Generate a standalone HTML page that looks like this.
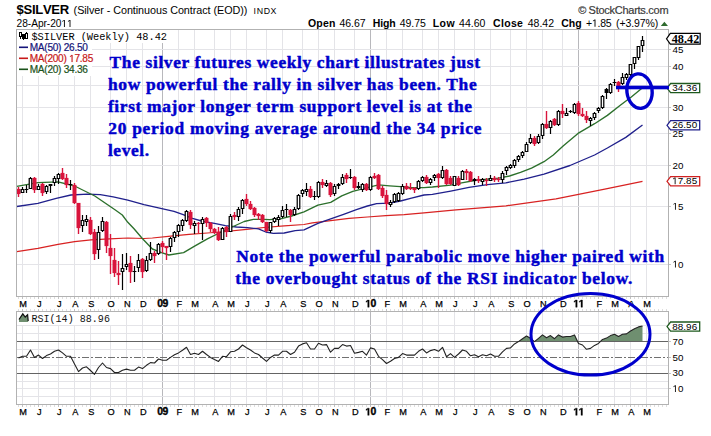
<!DOCTYPE html>
<html><head><meta charset="utf-8"><title>$SILVER weekly</title>
<style>html,body{margin:0;padding:0;background:#fff;}body{width:711px;height:436px;overflow:hidden;position:relative;font-family:"Liberation Sans",sans-serif;}</style></head>
<body>
<svg width="711" height="436" viewBox="0 0 711 436" style="position:absolute;left:0;top:0">
<rect x="0" y="0" width="711" height="436" fill="#fff"/>
<g shape-rendering="crispEdges"><rect x="22" y="30" width="1" height="266" fill="#e4e4e8"/><rect x="22" y="312" width="1" height="92" fill="#e4e4e8"/><rect x="38" y="30" width="1" height="266" fill="#e4e4e8"/><rect x="38" y="312" width="1" height="92" fill="#e4e4e8"/><rect x="58" y="30" width="1" height="266" fill="#e4e4e8"/><rect x="58" y="312" width="1" height="92" fill="#e4e4e8"/><rect x="74" y="30" width="1" height="266" fill="#e4e4e8"/><rect x="74" y="312" width="1" height="92" fill="#e4e4e8"/><rect x="90" y="30" width="1" height="266" fill="#e4e4e8"/><rect x="90" y="312" width="1" height="92" fill="#e4e4e8"/><rect x="110" y="30" width="1" height="266" fill="#e4e4e8"/><rect x="110" y="312" width="1" height="92" fill="#e4e4e8"/><rect x="126" y="30" width="1" height="266" fill="#e4e4e8"/><rect x="126" y="312" width="1" height="92" fill="#e4e4e8"/><rect x="142" y="30" width="1" height="266" fill="#e4e4e8"/><rect x="142" y="312" width="1" height="92" fill="#e4e4e8"/><rect x="162" y="30" width="1" height="266" fill="#b8b8bc"/><rect x="162" y="312" width="1" height="92" fill="#b8b8bc"/><rect x="178" y="30" width="1" height="266" fill="#e4e4e8"/><rect x="178" y="312" width="1" height="92" fill="#e4e4e8"/><rect x="194" y="30" width="1" height="266" fill="#e4e4e8"/><rect x="194" y="312" width="1" height="92" fill="#e4e4e8"/><rect x="214" y="30" width="1" height="266" fill="#e4e4e8"/><rect x="214" y="312" width="1" height="92" fill="#e4e4e8"/><rect x="230" y="30" width="1" height="266" fill="#e4e4e8"/><rect x="230" y="312" width="1" height="92" fill="#e4e4e8"/><rect x="246" y="30" width="1" height="266" fill="#e4e4e8"/><rect x="246" y="312" width="1" height="92" fill="#e4e4e8"/><rect x="266" y="30" width="1" height="266" fill="#e4e4e8"/><rect x="266" y="312" width="1" height="92" fill="#e4e4e8"/><rect x="282" y="30" width="1" height="266" fill="#e4e4e8"/><rect x="282" y="312" width="1" height="92" fill="#e4e4e8"/><rect x="302" y="30" width="1" height="266" fill="#e4e4e8"/><rect x="302" y="312" width="1" height="92" fill="#e4e4e8"/><rect x="318" y="30" width="1" height="266" fill="#e4e4e8"/><rect x="318" y="312" width="1" height="92" fill="#e4e4e8"/><rect x="334" y="30" width="1" height="266" fill="#e4e4e8"/><rect x="334" y="312" width="1" height="92" fill="#e4e4e8"/><rect x="354" y="30" width="1" height="266" fill="#e4e4e8"/><rect x="354" y="312" width="1" height="92" fill="#e4e4e8"/><rect x="370" y="30" width="1" height="266" fill="#b8b8bc"/><rect x="370" y="312" width="1" height="92" fill="#b8b8bc"/><rect x="386" y="30" width="1" height="266" fill="#e4e4e8"/><rect x="386" y="312" width="1" height="92" fill="#e4e4e8"/><rect x="402" y="30" width="1" height="266" fill="#e4e4e8"/><rect x="402" y="312" width="1" height="92" fill="#e4e4e8"/><rect x="422" y="30" width="1" height="266" fill="#e4e4e8"/><rect x="422" y="312" width="1" height="92" fill="#e4e4e8"/><rect x="438" y="30" width="1" height="266" fill="#e4e4e8"/><rect x="438" y="312" width="1" height="92" fill="#e4e4e8"/><rect x="454" y="30" width="1" height="266" fill="#e4e4e8"/><rect x="454" y="312" width="1" height="92" fill="#e4e4e8"/><rect x="474" y="30" width="1" height="266" fill="#e4e4e8"/><rect x="474" y="312" width="1" height="92" fill="#e4e4e8"/><rect x="490" y="30" width="1" height="266" fill="#e4e4e8"/><rect x="490" y="312" width="1" height="92" fill="#e4e4e8"/><rect x="510" y="30" width="1" height="266" fill="#e4e4e8"/><rect x="510" y="312" width="1" height="92" fill="#e4e4e8"/><rect x="526" y="30" width="1" height="266" fill="#e4e4e8"/><rect x="526" y="312" width="1" height="92" fill="#e4e4e8"/><rect x="542" y="30" width="1" height="266" fill="#e4e4e8"/><rect x="542" y="312" width="1" height="92" fill="#e4e4e8"/><rect x="562" y="30" width="1" height="266" fill="#e4e4e8"/><rect x="562" y="312" width="1" height="92" fill="#e4e4e8"/><rect x="578" y="30" width="1" height="266" fill="#b8b8bc"/><rect x="578" y="312" width="1" height="92" fill="#b8b8bc"/><rect x="598" y="30" width="1" height="266" fill="#e4e4e8"/><rect x="598" y="312" width="1" height="92" fill="#e4e4e8"/><rect x="614" y="30" width="1" height="266" fill="#e4e4e8"/><rect x="614" y="312" width="1" height="92" fill="#e4e4e8"/><rect x="630" y="30" width="1" height="266" fill="#e4e4e8"/><rect x="630" y="312" width="1" height="92" fill="#e4e4e8"/><rect x="646" y="30" width="1" height="266" fill="#e4e4e8"/><rect x="646" y="312" width="1" height="92" fill="#e4e4e8"/><rect x="17" y="49" width="651" height="1" fill="#e4e4e8"/><rect x="17" y="66" width="651" height="1" fill="#e4e4e8"/><rect x="17" y="85" width="651" height="1" fill="#e4e4e8"/><rect x="17" y="107" width="651" height="1" fill="#e4e4e8"/><rect x="17" y="133" width="651" height="1" fill="#e4e4e8"/><rect x="17" y="165" width="651" height="1" fill="#e4e4e8"/><rect x="17" y="206" width="651" height="1" fill="#e4e4e8"/><rect x="17" y="264" width="651" height="1" fill="#e4e4e8"/><rect x="17" y="325" width="651" height="1" fill="#e4e4e8"/><rect x="17" y="333" width="651" height="1" fill="#e4e4e8"/><rect x="17" y="349" width="651" height="1" fill="#e4e4e8"/><rect x="17" y="365" width="651" height="1" fill="#e4e4e8"/><rect x="17" y="381" width="651" height="1" fill="#e4e4e8"/><rect x="17" y="388" width="651" height="1" fill="#e4e4e8"/><rect x="17" y="396" width="651" height="1" fill="#e4e4e8"/></g>
<rect x="17" y="30" width="75" height="46" fill="#fff"/>
<rect x="17" y="30" width="152" height="13" fill="#fff"/>
<rect x="17" y="312" width="98" height="13" fill="#fff"/>
<polygon fill="#6f8f70" points="518.4,341.6 518.5,341.6 522.5,338.7 526.5,336.0 530.5,338.3 534.5,341.6 538.5,338.3 542.5,334.9 546.5,337.8 550.5,335.6 554.5,338.7 558.5,334.9 562.5,337.1 566.5,336.5 570.5,336.5 574.5,334.9 577.7,341.6"/>
<polygon fill="#6f8f70" points="600.2,341.6 602.5,339.4 606.5,338.1 610.5,335.6 614.5,334.2 618.5,336.4 622.5,334.3 626.5,333.9 630.5,331.0 634.5,328.7 638.5,326.9 642.5,326.0 642.5,341.6"/>
<g shape-rendering="crispEdges"><rect x="17" y="341" width="651" height="1" fill="#646464"/><rect x="17" y="373" width="651" height="1" fill="#646464"/></g>
<line x1="17" y1="357.5" x2="668" y2="357.5" stroke="#707070" stroke-width="1" stroke-dasharray="7,2,2,2" shape-rendering="crispEdges"/>
<polyline fill="none" stroke="#222" stroke-width="1.1" stroke-linejoin="round" points="18.5,358.0 22.5,356.3 26.5,356.3 30.5,350.0 34.5,357.4 38.5,355.1 42.5,358.5 46.5,355.6 50.5,354.0 54.5,351.3 58.5,350.0 62.5,352.9 66.5,356.3 70.5,356.3 74.5,364.0 78.5,371.6 82.5,368.0 86.5,366.8 90.5,370.5 94.5,374.3 98.5,367.5 102.5,363.0 106.5,367.5 110.5,368.6 114.5,372.5 118.5,372.5 122.5,370.2 126.5,369.1 130.5,370.2 134.5,370.2 138.5,367.1 142.5,368.6 146.5,365.3 150.5,362.6 154.5,363.0 158.5,359.0 162.5,360.3 166.5,360.3 170.5,357.4 174.5,354.7 178.5,352.9 182.5,350.2 186.5,347.3 190.5,354.5 194.5,353.3 198.5,354.5 202.5,351.3 206.5,354.5 210.5,357.4 214.5,359.6 218.5,361.4 222.5,356.3 226.5,356.7 230.5,351.8 234.5,351.3 238.5,349.0 242.5,345.0 246.5,347.7 250.5,350.0 254.5,352.9 258.5,354.5 262.5,358.0 266.5,361.4 270.5,357.4 274.5,355.1 278.5,355.1 282.5,351.3 286.5,351.3 290.5,354.5 294.5,352.2 298.5,346.1 302.5,343.9 306.5,342.8 310.5,349.0 314.5,349.0 318.5,343.2 322.5,345.0 326.5,344.6 330.5,352.2 334.5,348.4 338.5,348.4 342.5,344.6 346.5,346.1 350.5,345.5 354.5,353.3 358.5,352.4 362.5,351.3 366.5,355.1 370.5,347.9 374.5,349.0 378.5,356.3 382.5,359.6 386.5,363.5 390.5,361.2 394.5,358.5 398.5,357.4 402.5,353.6 406.5,355.1 410.5,355.1 414.5,355.1 418.5,351.3 422.5,349.0 426.5,352.9 430.5,350.6 434.5,349.5 438.5,351.3 442.5,347.3 446.5,356.7 450.5,353.6 454.5,357.4 458.5,354.0 462.5,350.0 466.5,351.3 470.5,355.8 474.5,354.7 478.5,356.7 482.5,354.7 486.5,355.8 490.5,354.0 494.5,356.3 498.5,356.3 502.5,351.8 506.5,348.4 510.5,347.9 514.5,343.9 518.5,341.6 522.5,338.7 526.5,336.0 530.5,338.3 534.5,341.6 538.5,338.3 542.5,334.9 546.5,337.8 550.5,335.6 554.5,338.7 558.5,334.9 562.5,337.1 566.5,336.5 570.5,336.5 574.5,334.9 578.5,343.4 582.5,345.0 586.5,349.3 590.5,348.4 594.5,345.4 598.5,343.4 602.5,339.4 606.5,338.1 610.5,335.6 614.5,334.2 618.5,336.4 622.5,334.3 626.5,333.9 630.5,331.0 634.5,328.7 638.5,326.9 642.5,326.0"/>
<polyline fill="none" stroke="#d82222" stroke-width="1.25" stroke-linejoin="round" points="16.8,251.7 37.9,248.4 58.0,244.4 74.6,241.6 91.0,239.8 109.5,238.9 127.8,238.0 144.0,238.5 152.4,238.0 170.7,236.1 189.0,234.3 207.4,233.0 225.8,231.5 244.2,229.7 264.0,227.5 284.2,225.9 304.0,224.5 312.4,222.8 330.7,220.7 349.0,218.3 367.4,217.0 385.8,215.7 404.2,214.6 424.0,212.8 456.0,209.8 506.0,205.8 556.0,198.8 606.0,188.9 642.5,181.3"/>
<polyline fill="none" stroke="#20208c" stroke-width="1.35" stroke-linejoin="round" points="16.8,206.5 37.9,203.3 56.2,198.4 70.9,195.0 87.4,194.2 100.3,194.7 113.2,196.9 127.8,200.2 144.0,204.6 174.0,211.4 183.2,214.7 192.4,218.4 203.4,221.5 214.4,223.3 225.4,225.7 236.4,227.0 247.4,227.6 258.5,228.9 265.8,232.0 273.2,233.4 284.2,233.0 295.2,230.7 304.0,229.8 317.9,223.4 330.7,218.9 343.6,214.3 356.4,209.7 367.4,206.0 376.6,203.6 389.5,203.2 400.5,201.0 411.5,198.1 424.0,195.0 432.4,194.4 450.7,191.1 469.0,187.4 487.4,184.7 505.8,182.8 524.2,179.2 544.0,174.2 570.0,165.5 594.6,155.0 607.4,148.0 625.8,137.4 642.5,125.0"/>
<polyline fill="none" stroke="#2c702c" stroke-width="1.35" stroke-linejoin="round" points="16.8,186.3 37.9,182.6 58.0,181.9 74.6,186.0 94.8,196.0 115.0,209.8 122.3,215.0 127.8,222.3 134.0,228.8 142.3,238.5 152.4,249.0 161.5,252.6 168.9,255.0 183.6,252.6 194.6,246.2 207.4,238.9 220.3,232.5 233.2,226.5 244.2,221.5 253.4,219.3 264.0,219.3 269.5,219.7 280.5,218.8 291.5,216.0 304.0,211.8 317.9,205.1 330.7,202.3 341.7,195.9 352.8,191.3 367.4,187.6 378.5,184.9 389.5,185.8 400.5,186.7 411.5,187.6 424.0,187.6 432.4,187.0 450.7,185.2 461.7,182.8 474.6,180.5 487.4,179.2 498.5,178.2 509.5,176.0 520.5,172.4 531.5,168.2 544.0,161.7 553.3,155.0 563.4,145.7 578.0,133.4 594.6,123.7 607.4,115.4 620.3,105.3 631.3,97.0 642.5,87.7"/>
<g><rect x="16.5" y="188.7" width="4" height="5.6" fill="#d9143c" opacity="0.32"/><rect x="17.6" y="187" width="1.8" height="10" fill="#d9143c" opacity="0.25"/><rect x="32.5" y="177.7" width="4" height="12.6" fill="#d9143c" opacity="0.32"/><rect x="33.6" y="177" width="1.8" height="16" fill="#d9143c" opacity="0.25"/><rect x="40.5" y="183.7" width="4" height="9.6" fill="#d9143c" opacity="0.32"/><rect x="41.6" y="183" width="1.8" height="13" fill="#d9143c" opacity="0.25"/><rect x="60.5" y="172.7" width="4" height="6.6" fill="#d9143c" opacity="0.32"/><rect x="61.6" y="168" width="1.8" height="12" fill="#d9143c" opacity="0.25"/><rect x="64.5" y="177.7" width="4" height="7.6" fill="#d9143c" opacity="0.32"/><rect x="65.6" y="174" width="1.8" height="14" fill="#d9143c" opacity="0.25"/><rect x="72.5" y="184.7" width="4" height="18.6" fill="#d9143c" opacity="0.32"/><rect x="73.6" y="183" width="1.8" height="21" fill="#d9143c" opacity="0.25"/><rect x="76.5" y="202.7" width="4" height="25.6" fill="#d9143c" opacity="0.32"/><rect x="77.6" y="203" width="1.8" height="31" fill="#d9143c" opacity="0.25"/><rect x="88.5" y="219.7" width="4" height="14.6" fill="#d9143c" opacity="0.32"/><rect x="89.6" y="217" width="1.8" height="18" fill="#d9143c" opacity="0.25"/><rect x="92.5" y="231.7" width="4" height="22.6" fill="#d9143c" opacity="0.32"/><rect x="93.6" y="229" width="1.8" height="31" fill="#d9143c" opacity="0.25"/><rect x="104.5" y="221.7" width="4" height="24.6" fill="#d9143c" opacity="0.32"/><rect x="105.6" y="221" width="1.8" height="32" fill="#d9143c" opacity="0.25"/><rect x="108.5" y="247.7" width="4" height="8.6" fill="#d9143c" opacity="0.32"/><rect x="109.6" y="234" width="1.8" height="40" fill="#d9143c" opacity="0.25"/><rect x="112.5" y="259.7" width="4" height="13.6" fill="#d9143c" opacity="0.32"/><rect x="113.6" y="248" width="1.8" height="29" fill="#d9143c" opacity="0.25"/><rect x="116.5" y="272.7" width="4" height="2.6" fill="#d9143c" opacity="0.32"/><rect x="117.6" y="261" width="1.8" height="24" fill="#d9143c" opacity="0.25"/><rect x="128.5" y="262.7" width="4" height="9.6" fill="#d9143c" opacity="0.32"/><rect x="129.6" y="256" width="1.8" height="27" fill="#d9143c" opacity="0.25"/><rect x="140.5" y="258.7" width="4" height="13.6" fill="#d9143c" opacity="0.32"/><rect x="141.6" y="258" width="1.8" height="20" fill="#d9143c" opacity="0.25"/><rect x="152.5" y="252.7" width="4" height="3.6" fill="#d9143c" opacity="0.32"/><rect x="153.6" y="251" width="1.8" height="12" fill="#d9143c" opacity="0.25"/><rect x="160.5" y="242.7" width="4" height="4.6" fill="#d9143c" opacity="0.32"/><rect x="161.6" y="241" width="1.8" height="12" fill="#d9143c" opacity="0.25"/><rect x="164.5" y="245.7" width="4" height="2.6" fill="#d9143c" opacity="0.32"/><rect x="165.6" y="246" width="1.8" height="14" fill="#d9143c" opacity="0.25"/><rect x="188.5" y="211.7" width="4" height="13.6" fill="#d9143c" opacity="0.32"/><rect x="189.6" y="210" width="1.8" height="19" fill="#d9143c" opacity="0.25"/><rect x="196.5" y="222.7" width="4" height="1.6" fill="#d9143c" opacity="0.32"/><rect x="197.6" y="222" width="1.8" height="11" fill="#d9143c" opacity="0.25"/><rect x="204.5" y="217.7" width="4" height="5.6" fill="#d9143c" opacity="0.32"/><rect x="205.6" y="217" width="1.8" height="10" fill="#d9143c" opacity="0.25"/><rect x="208.5" y="222.7" width="4" height="6.6" fill="#d9143c" opacity="0.32"/><rect x="209.6" y="222" width="1.8" height="10" fill="#d9143c" opacity="0.25"/><rect x="212.5" y="228.7" width="4" height="4.6" fill="#d9143c" opacity="0.32"/><rect x="213.6" y="228" width="1.8" height="6" fill="#d9143c" opacity="0.25"/><rect x="216.5" y="231.7" width="4" height="8.6" fill="#d9143c" opacity="0.32"/><rect x="217.6" y="227" width="1.8" height="14" fill="#d9143c" opacity="0.25"/><rect x="224.5" y="226.7" width="4" height="5.6" fill="#d9143c" opacity="0.32"/><rect x="225.6" y="226" width="1.8" height="11" fill="#d9143c" opacity="0.25"/><rect x="232.5" y="214.7" width="4" height="2.6" fill="#d9143c" opacity="0.32"/><rect x="233.6" y="212" width="1.8" height="8" fill="#d9143c" opacity="0.25"/><rect x="244.5" y="198.7" width="4" height="5.6" fill="#d9143c" opacity="0.32"/><rect x="245.6" y="194" width="1.8" height="12" fill="#d9143c" opacity="0.25"/><rect x="248.5" y="203.7" width="4" height="5.6" fill="#d9143c" opacity="0.32"/><rect x="249.6" y="201" width="1.8" height="9" fill="#d9143c" opacity="0.25"/><rect x="252.5" y="207.7" width="4" height="7.6" fill="#d9143c" opacity="0.32"/><rect x="253.6" y="207" width="1.8" height="10" fill="#d9143c" opacity="0.25"/><rect x="256.5" y="213.7" width="4" height="2.6" fill="#d9143c" opacity="0.32"/><rect x="257.6" y="213" width="1.8" height="7" fill="#d9143c" opacity="0.25"/><rect x="260.5" y="214.7" width="4" height="7.6" fill="#d9143c" opacity="0.32"/><rect x="261.6" y="214" width="1.8" height="9" fill="#d9143c" opacity="0.25"/><rect x="264.5" y="221.7" width="4" height="9.6" fill="#d9143c" opacity="0.32"/><rect x="265.6" y="222" width="1.8" height="10" fill="#d9143c" opacity="0.25"/><rect x="288.5" y="209.7" width="4" height="5.6" fill="#d9143c" opacity="0.32"/><rect x="289.6" y="209" width="1.8" height="13" fill="#d9143c" opacity="0.25"/><rect x="308.5" y="188.7" width="4" height="8.6" fill="#d9143c" opacity="0.32"/><rect x="309.6" y="186" width="1.8" height="12" fill="#d9143c" opacity="0.25"/><rect x="320.5" y="181.7" width="4" height="3.6" fill="#d9143c" opacity="0.32"/><rect x="321.6" y="179" width="1.8" height="9" fill="#d9143c" opacity="0.25"/><rect x="328.5" y="182.7" width="4" height="12.6" fill="#d9143c" opacity="0.32"/><rect x="329.6" y="182" width="1.8" height="15" fill="#d9143c" opacity="0.25"/><rect x="344.5" y="174.7" width="4" height="4.6" fill="#d9143c" opacity="0.32"/><rect x="345.6" y="173" width="1.8" height="10" fill="#d9143c" opacity="0.25"/><rect x="352.5" y="176.7" width="4" height="11.6" fill="#d9143c" opacity="0.32"/><rect x="353.6" y="176" width="1.8" height="14" fill="#d9143c" opacity="0.25"/><rect x="364.5" y="183.7" width="4" height="6.6" fill="#d9143c" opacity="0.32"/><rect x="365.6" y="183" width="1.8" height="8" fill="#d9143c" opacity="0.25"/><rect x="372.5" y="175.7" width="4" height="2.6" fill="#d9143c" opacity="0.32"/><rect x="373.6" y="173" width="1.8" height="6" fill="#d9143c" opacity="0.25"/><rect x="376.5" y="174.7" width="4" height="14.6" fill="#d9143c" opacity="0.32"/><rect x="377.6" y="174" width="1.8" height="16" fill="#d9143c" opacity="0.25"/><rect x="380.5" y="187.7" width="4" height="8.6" fill="#d9143c" opacity="0.32"/><rect x="381.6" y="186" width="1.8" height="12" fill="#d9143c" opacity="0.25"/><rect x="384.5" y="194.7" width="4" height="9.6" fill="#d9143c" opacity="0.32"/><rect x="385.6" y="190" width="1.8" height="20" fill="#d9143c" opacity="0.25"/><rect x="404.5" y="185.7" width="4" height="3.6" fill="#d9143c" opacity="0.32"/><rect x="405.6" y="183" width="1.8" height="7" fill="#d9143c" opacity="0.25"/><rect x="408.5" y="187.7" width="4" height="1.6" fill="#d9143c" opacity="0.32"/><rect x="409.6" y="183" width="1.8" height="7" fill="#d9143c" opacity="0.25"/><rect x="412.5" y="187.7" width="4" height="2.6" fill="#d9143c" opacity="0.32"/><rect x="413.6" y="187" width="1.8" height="6" fill="#d9143c" opacity="0.25"/><rect x="424.5" y="176.7" width="4" height="6.6" fill="#d9143c" opacity="0.32"/><rect x="425.6" y="175" width="1.8" height="9" fill="#d9143c" opacity="0.25"/><rect x="436.5" y="173.7" width="4" height="4.6" fill="#d9143c" opacity="0.32"/><rect x="437.6" y="173" width="1.8" height="15" fill="#d9143c" opacity="0.25"/><rect x="444.5" y="169.7" width="4" height="14.6" fill="#d9143c" opacity="0.32"/><rect x="445.6" y="169" width="1.8" height="16" fill="#d9143c" opacity="0.25"/><rect x="448.5" y="177.7" width="4" height="6.6" fill="#d9143c" opacity="0.32"/><rect x="449.6" y="176" width="1.8" height="9" fill="#d9143c" opacity="0.25"/><rect x="456.5" y="177.7" width="4" height="7.6" fill="#d9143c" opacity="0.32"/><rect x="457.6" y="176" width="1.8" height="10" fill="#d9143c" opacity="0.25"/><rect x="464.5" y="170.7" width="4" height="2.6" fill="#d9143c" opacity="0.32"/><rect x="465.6" y="169" width="1.8" height="11" fill="#d9143c" opacity="0.25"/><rect x="468.5" y="171.7" width="4" height="9.6" fill="#d9143c" opacity="0.32"/><rect x="469.6" y="171" width="1.8" height="11" fill="#d9143c" opacity="0.25"/><rect x="476.5" y="178.7" width="4" height="2.6" fill="#d9143c" opacity="0.32"/><rect x="477.6" y="176" width="1.8" height="7" fill="#d9143c" opacity="0.25"/><rect x="484.5" y="179.7" width="4" height="1.6" fill="#d9143c" opacity="0.32"/><rect x="485.6" y="178" width="1.8" height="8" fill="#d9143c" opacity="0.25"/><rect x="492.5" y="177.7" width="4" height="2.6" fill="#d9143c" opacity="0.32"/><rect x="493.6" y="176" width="1.8" height="6" fill="#d9143c" opacity="0.25"/><rect x="496.5" y="178.7" width="4" height="1.6" fill="#d9143c" opacity="0.32"/><rect x="497.6" y="177" width="1.8" height="5" fill="#d9143c" opacity="0.25"/><rect x="532.5" y="137.7" width="4" height="6.6" fill="#d9143c" opacity="0.32"/><rect x="533.6" y="136" width="1.8" height="10" fill="#d9143c" opacity="0.25"/><rect x="544.5" y="123.7" width="4" height="4.6" fill="#d9143c" opacity="0.32"/><rect x="545.6" y="111" width="1.8" height="18" fill="#d9143c" opacity="0.25"/><rect x="552.5" y="118.7" width="4" height="6.6" fill="#d9143c" opacity="0.32"/><rect x="553.6" y="118" width="1.8" height="8" fill="#d9143c" opacity="0.25"/><rect x="560.5" y="110.7" width="4" height="3.6" fill="#d9143c" opacity="0.32"/><rect x="561.6" y="104" width="1.8" height="14" fill="#d9143c" opacity="0.25"/><rect x="576.5" y="102.7" width="4" height="11.6" fill="#d9143c" opacity="0.32"/><rect x="577.6" y="101" width="1.8" height="15" fill="#d9143c" opacity="0.25"/><rect x="580.5" y="113.7" width="4" height="2.6" fill="#d9143c" opacity="0.32"/><rect x="581.6" y="108" width="1.8" height="9" fill="#d9143c" opacity="0.25"/><rect x="584.5" y="115.7" width="4" height="4.6" fill="#d9143c" opacity="0.32"/><rect x="585.6" y="111" width="1.8" height="12" fill="#d9143c" opacity="0.25"/><rect x="616.5" y="81.7" width="4" height="4.6" fill="#d9143c" opacity="0.32"/><rect x="617.6" y="81" width="1.8" height="11" fill="#d9143c" opacity="0.25"/></g>
<g><rect x="17.9" y="187" width="1.2" height="10" fill="#d9143c"/><rect x="16.6" y="189" width="3.8" height="5" fill="#d9143c"/><rect x="21.9" y="187" width="1.2" height="6" fill="#000"/><rect x="20.6" y="189" width="3.8" height="4" fill="#000"/><rect x="21.85" y="190" width="1.3" height="2" fill="#fff"/><rect x="25.9" y="185" width="1.2" height="8" fill="#000"/><rect x="24.6" y="189" width="3.8" height="1" fill="#000"/><rect x="29.9" y="177" width="1.2" height="12" fill="#000"/><rect x="28.6" y="178" width="3.8" height="11" fill="#000"/><rect x="29.85" y="179" width="1.3" height="9" fill="#fff"/><rect x="33.9" y="177" width="1.2" height="16" fill="#d9143c"/><rect x="32.6" y="178" width="3.8" height="12" fill="#d9143c"/><rect x="37.9" y="184" width="1.2" height="6" fill="#000"/><rect x="36.6" y="186" width="3.8" height="4" fill="#000"/><rect x="37.85" y="187" width="1.3" height="2" fill="#fff"/><rect x="41.9" y="183" width="1.2" height="13" fill="#d9143c"/><rect x="40.6" y="184" width="3.8" height="9" fill="#d9143c"/><rect x="45.9" y="185" width="1.2" height="9" fill="#000"/><rect x="44.6" y="186" width="3.8" height="6" fill="#000"/><rect x="45.85" y="187" width="1.3" height="4" fill="#fff"/><rect x="49.9" y="184" width="1.2" height="9" fill="#000"/><rect x="48.6" y="184" width="3.8" height="2" fill="#000"/><rect x="53.9" y="176" width="1.2" height="10" fill="#000"/><rect x="52.6" y="178" width="3.8" height="5" fill="#000"/><rect x="53.85" y="179" width="1.3" height="3" fill="#fff"/><rect x="57.9" y="173" width="1.2" height="11" fill="#000"/><rect x="56.6" y="174" width="3.8" height="5" fill="#000"/><rect x="57.85" y="175" width="1.3" height="3" fill="#fff"/><rect x="61.9" y="168" width="1.2" height="12" fill="#d9143c"/><rect x="60.6" y="173" width="3.8" height="6" fill="#d9143c"/><rect x="65.9" y="174" width="1.2" height="14" fill="#d9143c"/><rect x="64.6" y="178" width="3.8" height="7" fill="#d9143c"/><rect x="69.9" y="180" width="1.2" height="10" fill="#000"/><rect x="68.6" y="184" width="3.8" height="1" fill="#000"/><rect x="73.9" y="183" width="1.2" height="21" fill="#d9143c"/><rect x="72.6" y="185" width="3.8" height="18" fill="#d9143c"/><rect x="77.9" y="203" width="1.2" height="31" fill="#d9143c"/><rect x="76.6" y="203" width="3.8" height="25" fill="#d9143c"/><rect x="81.9" y="215" width="1.2" height="17" fill="#000"/><rect x="80.6" y="220" width="3.8" height="6" fill="#000"/><rect x="81.85" y="221" width="1.3" height="4" fill="#fff"/><rect x="85.9" y="215" width="1.2" height="11" fill="#000"/><rect x="84.6" y="219" width="3.8" height="3" fill="#000"/><rect x="85.85" y="220" width="1.3" height="1" fill="#fff"/><rect x="89.9" y="217" width="1.2" height="18" fill="#d9143c"/><rect x="88.6" y="220" width="3.8" height="14" fill="#d9143c"/><rect x="93.9" y="229" width="1.2" height="31" fill="#d9143c"/><rect x="92.6" y="232" width="3.8" height="22" fill="#d9143c"/><rect x="97.9" y="226" width="1.2" height="33" fill="#000"/><rect x="96.6" y="232" width="3.8" height="18" fill="#000"/><rect x="97.85" y="233" width="1.3" height="16" fill="#fff"/><rect x="101.9" y="217" width="1.2" height="15" fill="#000"/><rect x="100.6" y="221" width="3.8" height="10" fill="#000"/><rect x="101.85" y="222" width="1.3" height="8" fill="#fff"/><rect x="105.9" y="221" width="1.2" height="32" fill="#d9143c"/><rect x="104.6" y="222" width="3.8" height="24" fill="#d9143c"/><rect x="109.9" y="234" width="1.2" height="40" fill="#d9143c"/><rect x="108.6" y="248" width="3.8" height="8" fill="#d9143c"/><rect x="113.9" y="248" width="1.2" height="29" fill="#d9143c"/><rect x="112.6" y="260" width="3.8" height="13" fill="#d9143c"/><rect x="117.9" y="261" width="1.2" height="24" fill="#d9143c"/><rect x="116.6" y="273" width="3.8" height="2" fill="#d9143c"/><rect x="121.9" y="254" width="1.2" height="36" fill="#000"/><rect x="120.6" y="268" width="3.8" height="4" fill="#000"/><rect x="121.85" y="269" width="1.3" height="2" fill="#fff"/><rect x="125.9" y="253" width="1.2" height="17" fill="#000"/><rect x="124.6" y="264" width="3.8" height="3" fill="#000"/><rect x="125.85" y="265" width="1.3" height="1" fill="#fff"/><rect x="129.9" y="256" width="1.2" height="27" fill="#d9143c"/><rect x="128.6" y="263" width="3.8" height="9" fill="#d9143c"/><rect x="133.9" y="266" width="1.2" height="16" fill="#000"/><rect x="132.6" y="271" width="3.8" height="1" fill="#000"/><rect x="137.9" y="254" width="1.2" height="18" fill="#000"/><rect x="136.6" y="260" width="3.8" height="8" fill="#000"/><rect x="137.85" y="261" width="1.3" height="6" fill="#fff"/><rect x="141.9" y="258" width="1.2" height="20" fill="#d9143c"/><rect x="140.6" y="259" width="3.8" height="13" fill="#d9143c"/><rect x="145.9" y="256" width="1.2" height="16" fill="#000"/><rect x="144.6" y="260" width="3.8" height="11" fill="#000"/><rect x="145.85" y="261" width="1.3" height="9" fill="#fff"/><rect x="149.9" y="242" width="1.2" height="19" fill="#000"/><rect x="148.6" y="253" width="3.8" height="7" fill="#000"/><rect x="149.85" y="254" width="1.3" height="5" fill="#fff"/><rect x="153.9" y="251" width="1.2" height="12" fill="#d9143c"/><rect x="152.6" y="253" width="3.8" height="3" fill="#d9143c"/><rect x="157.9" y="243" width="1.2" height="12" fill="#000"/><rect x="156.6" y="244" width="3.8" height="10" fill="#000"/><rect x="157.85" y="245" width="1.3" height="8" fill="#fff"/><rect x="161.9" y="241" width="1.2" height="12" fill="#d9143c"/><rect x="160.6" y="243" width="3.8" height="4" fill="#d9143c"/><rect x="165.9" y="246" width="1.2" height="14" fill="#d9143c"/><rect x="164.6" y="246" width="3.8" height="2" fill="#d9143c"/><rect x="169.9" y="237" width="1.2" height="15" fill="#000"/><rect x="168.6" y="238" width="3.8" height="9" fill="#000"/><rect x="169.85" y="239" width="1.3" height="7" fill="#fff"/><rect x="173.9" y="231" width="1.2" height="11" fill="#000"/><rect x="172.6" y="232" width="3.8" height="6" fill="#000"/><rect x="173.85" y="233" width="1.3" height="4" fill="#fff"/><rect x="177.9" y="224" width="1.2" height="13" fill="#000"/><rect x="176.6" y="225" width="3.8" height="7" fill="#000"/><rect x="177.85" y="226" width="1.3" height="5" fill="#fff"/><rect x="181.9" y="219" width="1.2" height="12" fill="#000"/><rect x="180.6" y="220" width="3.8" height="6" fill="#000"/><rect x="181.85" y="221" width="1.3" height="4" fill="#fff"/><rect x="185.9" y="210" width="1.2" height="12" fill="#000"/><rect x="184.6" y="211" width="3.8" height="10" fill="#000"/><rect x="185.85" y="212" width="1.3" height="8" fill="#fff"/><rect x="189.9" y="210" width="1.2" height="19" fill="#d9143c"/><rect x="188.6" y="212" width="3.8" height="13" fill="#d9143c"/><rect x="193.9" y="221" width="1.2" height="13" fill="#000"/><rect x="192.6" y="223" width="3.8" height="3" fill="#000"/><rect x="193.85" y="224" width="1.3" height="1" fill="#fff"/><rect x="197.9" y="222" width="1.2" height="11" fill="#d9143c"/><rect x="196.6" y="223" width="3.8" height="1" fill="#d9143c"/><rect x="201.9" y="217" width="1.2" height="23" fill="#000"/><rect x="200.6" y="219" width="3.8" height="5" fill="#000"/><rect x="201.85" y="220" width="1.3" height="3" fill="#fff"/><rect x="205.9" y="217" width="1.2" height="10" fill="#d9143c"/><rect x="204.6" y="218" width="3.8" height="5" fill="#d9143c"/><rect x="209.9" y="222" width="1.2" height="10" fill="#d9143c"/><rect x="208.6" y="223" width="3.8" height="6" fill="#d9143c"/><rect x="213.9" y="228" width="1.2" height="6" fill="#d9143c"/><rect x="212.6" y="229" width="3.8" height="4" fill="#d9143c"/><rect x="217.9" y="227" width="1.2" height="14" fill="#d9143c"/><rect x="216.6" y="232" width="3.8" height="8" fill="#d9143c"/><rect x="221.9" y="227" width="1.2" height="13" fill="#000"/><rect x="220.6" y="228" width="3.8" height="12" fill="#000"/><rect x="221.85" y="229" width="1.3" height="10" fill="#fff"/><rect x="225.9" y="226" width="1.2" height="11" fill="#d9143c"/><rect x="224.6" y="227" width="3.8" height="5" fill="#d9143c"/><rect x="229.9" y="214" width="1.2" height="18" fill="#000"/><rect x="228.6" y="216" width="3.8" height="16" fill="#000"/><rect x="229.85" y="217" width="1.3" height="14" fill="#fff"/><rect x="233.9" y="212" width="1.2" height="8" fill="#d9143c"/><rect x="232.6" y="215" width="3.8" height="2" fill="#d9143c"/><rect x="237.9" y="207" width="1.2" height="14" fill="#000"/><rect x="236.6" y="209" width="3.8" height="8" fill="#000"/><rect x="237.85" y="210" width="1.3" height="6" fill="#fff"/><rect x="241.9" y="199" width="1.2" height="15" fill="#000"/><rect x="240.6" y="200" width="3.8" height="9" fill="#000"/><rect x="241.85" y="201" width="1.3" height="7" fill="#fff"/><rect x="245.9" y="194" width="1.2" height="12" fill="#d9143c"/><rect x="244.6" y="199" width="3.8" height="5" fill="#d9143c"/><rect x="249.9" y="201" width="1.2" height="9" fill="#d9143c"/><rect x="248.6" y="204" width="3.8" height="5" fill="#d9143c"/><rect x="253.9" y="207" width="1.2" height="10" fill="#d9143c"/><rect x="252.6" y="208" width="3.8" height="7" fill="#d9143c"/><rect x="257.9" y="213" width="1.2" height="7" fill="#d9143c"/><rect x="256.6" y="214" width="3.8" height="2" fill="#d9143c"/><rect x="261.9" y="214" width="1.2" height="9" fill="#d9143c"/><rect x="260.6" y="215" width="3.8" height="7" fill="#d9143c"/><rect x="265.9" y="222" width="1.2" height="10" fill="#d9143c"/><rect x="264.6" y="222" width="3.8" height="9" fill="#d9143c"/><rect x="269.9" y="222" width="1.2" height="11" fill="#000"/><rect x="268.6" y="222" width="3.8" height="9" fill="#000"/><rect x="269.85" y="223" width="1.3" height="7" fill="#fff"/><rect x="273.9" y="217" width="1.2" height="6" fill="#000"/><rect x="272.6" y="218" width="3.8" height="4" fill="#000"/><rect x="273.85" y="219" width="1.3" height="2" fill="#fff"/><rect x="277.9" y="215" width="1.2" height="11" fill="#000"/><rect x="276.6" y="217" width="3.8" height="3" fill="#000"/><rect x="277.85" y="218" width="1.3" height="1" fill="#fff"/><rect x="281.9" y="206" width="1.2" height="12" fill="#000"/><rect x="280.6" y="210" width="3.8" height="7" fill="#000"/><rect x="281.85" y="211" width="1.3" height="5" fill="#fff"/><rect x="285.9" y="204" width="1.2" height="13" fill="#000"/><rect x="284.6" y="209" width="3.8" height="1" fill="#000"/><rect x="289.9" y="209" width="1.2" height="13" fill="#d9143c"/><rect x="288.6" y="210" width="3.8" height="5" fill="#d9143c"/><rect x="293.9" y="207" width="1.2" height="9" fill="#000"/><rect x="292.6" y="209" width="3.8" height="6" fill="#000"/><rect x="293.85" y="210" width="1.3" height="4" fill="#fff"/><rect x="297.9" y="194" width="1.2" height="16" fill="#000"/><rect x="296.6" y="195" width="3.8" height="14" fill="#000"/><rect x="297.85" y="196" width="1.3" height="12" fill="#fff"/><rect x="301.9" y="189" width="1.2" height="8" fill="#000"/><rect x="300.6" y="190" width="3.8" height="4" fill="#000"/><rect x="301.85" y="191" width="1.3" height="2" fill="#fff"/><rect x="305.9" y="183" width="1.2" height="13" fill="#000"/><rect x="304.6" y="189" width="3.8" height="3" fill="#000"/><rect x="305.85" y="190" width="1.3" height="1" fill="#fff"/><rect x="309.9" y="186" width="1.2" height="12" fill="#d9143c"/><rect x="308.6" y="189" width="3.8" height="8" fill="#d9143c"/><rect x="313.9" y="191" width="1.2" height="9" fill="#000"/><rect x="312.6" y="196" width="3.8" height="1" fill="#000"/><rect x="317.9" y="181" width="1.2" height="17" fill="#000"/><rect x="316.6" y="182" width="3.8" height="15" fill="#000"/><rect x="317.85" y="183" width="1.3" height="13" fill="#fff"/><rect x="321.9" y="179" width="1.2" height="9" fill="#d9143c"/><rect x="320.6" y="182" width="3.8" height="3" fill="#d9143c"/><rect x="325.9" y="180" width="1.2" height="7" fill="#000"/><rect x="324.6" y="183" width="3.8" height="3" fill="#000"/><rect x="325.85" y="184" width="1.3" height="1" fill="#fff"/><rect x="329.9" y="182" width="1.2" height="15" fill="#d9143c"/><rect x="328.6" y="183" width="3.8" height="12" fill="#d9143c"/><rect x="333.9" y="184" width="1.2" height="12" fill="#000"/><rect x="332.6" y="186" width="3.8" height="8" fill="#000"/><rect x="333.85" y="187" width="1.3" height="6" fill="#fff"/><rect x="337.9" y="183" width="1.2" height="6" fill="#000"/><rect x="336.6" y="184" width="3.8" height="2" fill="#000"/><rect x="341.9" y="174" width="1.2" height="11" fill="#000"/><rect x="340.6" y="177" width="3.8" height="7" fill="#000"/><rect x="341.85" y="178" width="1.3" height="5" fill="#fff"/><rect x="345.9" y="173" width="1.2" height="10" fill="#d9143c"/><rect x="344.6" y="175" width="3.8" height="4" fill="#d9143c"/><rect x="349.9" y="169" width="1.2" height="10" fill="#000"/><rect x="348.6" y="177" width="3.8" height="1" fill="#000"/><rect x="353.9" y="176" width="1.2" height="14" fill="#d9143c"/><rect x="352.6" y="177" width="3.8" height="11" fill="#d9143c"/><rect x="357.9" y="182" width="1.2" height="7" fill="#000"/><rect x="356.6" y="186" width="3.8" height="2" fill="#000"/><rect x="361.9" y="183" width="1.2" height="9" fill="#000"/><rect x="360.6" y="184" width="3.8" height="6" fill="#000"/><rect x="361.85" y="185" width="1.3" height="4" fill="#fff"/><rect x="365.9" y="183" width="1.2" height="8" fill="#d9143c"/><rect x="364.6" y="184" width="3.8" height="6" fill="#d9143c"/><rect x="369.9" y="176" width="1.2" height="15" fill="#000"/><rect x="368.6" y="177" width="3.8" height="13" fill="#000"/><rect x="369.85" y="178" width="1.3" height="11" fill="#fff"/><rect x="373.9" y="173" width="1.2" height="6" fill="#d9143c"/><rect x="372.6" y="176" width="3.8" height="2" fill="#d9143c"/><rect x="377.9" y="174" width="1.2" height="16" fill="#d9143c"/><rect x="376.6" y="175" width="3.8" height="14" fill="#d9143c"/><rect x="381.9" y="186" width="1.2" height="12" fill="#d9143c"/><rect x="380.6" y="188" width="3.8" height="8" fill="#d9143c"/><rect x="385.9" y="190" width="1.2" height="20" fill="#d9143c"/><rect x="384.6" y="195" width="3.8" height="9" fill="#d9143c"/><rect x="389.9" y="200" width="1.2" height="7" fill="#000"/><rect x="388.6" y="202" width="3.8" height="3" fill="#000"/><rect x="389.85" y="203" width="1.3" height="1" fill="#fff"/><rect x="393.9" y="193" width="1.2" height="10" fill="#000"/><rect x="392.6" y="194" width="3.8" height="8" fill="#000"/><rect x="393.85" y="195" width="1.3" height="6" fill="#fff"/><rect x="397.9" y="192" width="1.2" height="10" fill="#000"/><rect x="396.6" y="193" width="3.8" height="8" fill="#000"/><rect x="397.85" y="194" width="1.3" height="6" fill="#fff"/><rect x="401.9" y="184" width="1.2" height="11" fill="#000"/><rect x="400.6" y="186" width="3.8" height="8" fill="#000"/><rect x="401.85" y="187" width="1.3" height="6" fill="#fff"/><rect x="405.9" y="183" width="1.2" height="7" fill="#d9143c"/><rect x="404.6" y="186" width="3.8" height="3" fill="#d9143c"/><rect x="409.9" y="183" width="1.2" height="7" fill="#d9143c"/><rect x="408.6" y="188" width="3.8" height="1" fill="#d9143c"/><rect x="413.9" y="187" width="1.2" height="6" fill="#d9143c"/><rect x="412.6" y="188" width="3.8" height="2" fill="#d9143c"/><rect x="417.9" y="180" width="1.2" height="10" fill="#000"/><rect x="416.6" y="181" width="3.8" height="8" fill="#000"/><rect x="417.85" y="182" width="1.3" height="6" fill="#fff"/><rect x="421.9" y="176" width="1.2" height="6" fill="#000"/><rect x="420.6" y="177" width="3.8" height="4" fill="#000"/><rect x="421.85" y="178" width="1.3" height="2" fill="#fff"/><rect x="425.9" y="175" width="1.2" height="9" fill="#d9143c"/><rect x="424.6" y="177" width="3.8" height="6" fill="#d9143c"/><rect x="429.9" y="178" width="1.2" height="7" fill="#000"/><rect x="428.6" y="179" width="3.8" height="4" fill="#000"/><rect x="429.85" y="180" width="1.3" height="2" fill="#fff"/><rect x="433.9" y="174" width="1.2" height="7" fill="#000"/><rect x="432.6" y="175" width="3.8" height="3" fill="#000"/><rect x="433.85" y="176" width="1.3" height="1" fill="#fff"/><rect x="437.9" y="173" width="1.2" height="15" fill="#d9143c"/><rect x="436.6" y="174" width="3.8" height="4" fill="#d9143c"/><rect x="441.9" y="166" width="1.2" height="13" fill="#000"/><rect x="440.6" y="170" width="3.8" height="8" fill="#000"/><rect x="441.85" y="171" width="1.3" height="6" fill="#fff"/><rect x="445.9" y="169" width="1.2" height="16" fill="#d9143c"/><rect x="444.6" y="170" width="3.8" height="14" fill="#d9143c"/><rect x="449.9" y="176" width="1.2" height="9" fill="#d9143c"/><rect x="448.6" y="178" width="3.8" height="6" fill="#d9143c"/><rect x="453.9" y="176" width="1.2" height="10" fill="#000"/><rect x="452.6" y="176" width="3.8" height="10" fill="#000"/><rect x="453.85" y="177" width="1.3" height="8" fill="#fff"/><rect x="457.9" y="176" width="1.2" height="10" fill="#d9143c"/><rect x="456.6" y="178" width="3.8" height="7" fill="#d9143c"/><rect x="461.9" y="170" width="1.2" height="10" fill="#000"/><rect x="460.6" y="171" width="3.8" height="9" fill="#000"/><rect x="461.85" y="172" width="1.3" height="7" fill="#fff"/><rect x="465.9" y="169" width="1.2" height="11" fill="#d9143c"/><rect x="464.6" y="171" width="3.8" height="2" fill="#d9143c"/><rect x="469.9" y="171" width="1.2" height="11" fill="#d9143c"/><rect x="468.6" y="172" width="3.8" height="9" fill="#d9143c"/><rect x="473.9" y="178" width="1.2" height="7" fill="#000"/><rect x="472.6" y="179" width="3.8" height="2" fill="#000"/><rect x="477.9" y="176" width="1.2" height="7" fill="#d9143c"/><rect x="476.6" y="179" width="3.8" height="2" fill="#d9143c"/><rect x="481.9" y="178" width="1.2" height="7" fill="#000"/><rect x="480.6" y="179" width="3.8" height="3" fill="#000"/><rect x="481.85" y="180" width="1.3" height="1" fill="#fff"/><rect x="485.9" y="178" width="1.2" height="8" fill="#d9143c"/><rect x="484.6" y="180" width="3.8" height="1" fill="#d9143c"/><rect x="489.9" y="175" width="1.2" height="6" fill="#000"/><rect x="488.6" y="178" width="3.8" height="3" fill="#000"/><rect x="489.85" y="179" width="1.3" height="1" fill="#fff"/><rect x="493.9" y="176" width="1.2" height="6" fill="#d9143c"/><rect x="492.6" y="178" width="3.8" height="2" fill="#d9143c"/><rect x="497.9" y="177" width="1.2" height="5" fill="#d9143c"/><rect x="496.6" y="179" width="3.8" height="1" fill="#d9143c"/><rect x="501.9" y="171" width="1.2" height="12" fill="#000"/><rect x="500.6" y="173" width="3.8" height="7" fill="#000"/><rect x="501.85" y="174" width="1.3" height="5" fill="#fff"/><rect x="505.9" y="166" width="1.2" height="9" fill="#000"/><rect x="504.6" y="167" width="3.8" height="4" fill="#000"/><rect x="505.85" y="168" width="1.3" height="2" fill="#fff"/><rect x="509.9" y="164" width="1.2" height="5" fill="#000"/><rect x="508.6" y="165" width="3.8" height="3" fill="#000"/><rect x="509.85" y="166" width="1.3" height="1" fill="#fff"/><rect x="513.9" y="159" width="1.2" height="9" fill="#000"/><rect x="512.6" y="160" width="3.8" height="6" fill="#000"/><rect x="513.85" y="161" width="1.3" height="4" fill="#fff"/><rect x="517.9" y="155" width="1.2" height="7" fill="#000"/><rect x="516.6" y="156" width="3.8" height="4" fill="#000"/><rect x="517.85" y="157" width="1.3" height="2" fill="#fff"/><rect x="521.9" y="151" width="1.2" height="7" fill="#000"/><rect x="520.6" y="152" width="3.8" height="4" fill="#000"/><rect x="521.85" y="153" width="1.3" height="2" fill="#fff"/><rect x="525.9" y="142" width="1.2" height="10" fill="#000"/><rect x="524.6" y="144" width="3.8" height="8" fill="#000"/><rect x="525.85" y="145" width="1.3" height="6" fill="#fff"/><rect x="529.9" y="134" width="1.2" height="10" fill="#000"/><rect x="528.6" y="138" width="3.8" height="5" fill="#000"/><rect x="529.85" y="139" width="1.3" height="3" fill="#fff"/><rect x="533.9" y="136" width="1.2" height="10" fill="#d9143c"/><rect x="532.6" y="138" width="3.8" height="6" fill="#d9143c"/><rect x="537.9" y="134" width="1.2" height="10" fill="#000"/><rect x="536.6" y="136" width="3.8" height="7" fill="#000"/><rect x="537.85" y="137" width="1.3" height="5" fill="#fff"/><rect x="541.9" y="123" width="1.2" height="16" fill="#000"/><rect x="540.6" y="124" width="3.8" height="12" fill="#000"/><rect x="541.85" y="125" width="1.3" height="10" fill="#fff"/><rect x="545.9" y="111" width="1.2" height="18" fill="#d9143c"/><rect x="544.6" y="124" width="3.8" height="4" fill="#d9143c"/><rect x="549.9" y="120" width="1.2" height="14" fill="#000"/><rect x="548.6" y="121" width="3.8" height="7" fill="#000"/><rect x="549.85" y="122" width="1.3" height="5" fill="#fff"/><rect x="553.9" y="118" width="1.2" height="8" fill="#d9143c"/><rect x="552.6" y="119" width="3.8" height="6" fill="#d9143c"/><rect x="557.9" y="110" width="1.2" height="16" fill="#000"/><rect x="556.6" y="111" width="3.8" height="14" fill="#000"/><rect x="557.85" y="112" width="1.3" height="12" fill="#fff"/><rect x="561.9" y="104" width="1.2" height="14" fill="#d9143c"/><rect x="560.6" y="111" width="3.8" height="3" fill="#d9143c"/><rect x="565.9" y="108" width="1.2" height="8" fill="#000"/><rect x="564.6" y="113" width="3.8" height="3" fill="#000"/><rect x="565.85" y="114" width="1.3" height="1" fill="#fff"/><rect x="569.9" y="110" width="1.2" height="3" fill="#000"/><rect x="568.6" y="111" width="3.8" height="1" fill="#000"/><rect x="573.9" y="103" width="1.2" height="11" fill="#000"/><rect x="572.6" y="104" width="3.8" height="9" fill="#000"/><rect x="573.85" y="105" width="1.3" height="7" fill="#fff"/><rect x="577.9" y="101" width="1.2" height="15" fill="#d9143c"/><rect x="576.6" y="103" width="3.8" height="11" fill="#d9143c"/><rect x="581.9" y="108" width="1.2" height="9" fill="#d9143c"/><rect x="580.6" y="114" width="3.8" height="2" fill="#d9143c"/><rect x="585.9" y="111" width="1.2" height="12" fill="#d9143c"/><rect x="584.6" y="116" width="3.8" height="4" fill="#d9143c"/><rect x="589.9" y="117" width="1.2" height="9" fill="#000"/><rect x="588.6" y="118" width="3.8" height="3" fill="#000"/><rect x="589.85" y="119" width="1.3" height="1" fill="#fff"/><rect x="593.9" y="112" width="1.2" height="8" fill="#000"/><rect x="592.6" y="113" width="3.8" height="5" fill="#000"/><rect x="593.85" y="114" width="1.3" height="3" fill="#fff"/><rect x="597.9" y="107" width="1.2" height="6" fill="#000"/><rect x="596.6" y="108" width="3.8" height="3" fill="#000"/><rect x="597.85" y="109" width="1.3" height="1" fill="#fff"/><rect x="601.9" y="95" width="1.2" height="14" fill="#000"/><rect x="600.6" y="96" width="3.8" height="12" fill="#000"/><rect x="601.85" y="97" width="1.3" height="10" fill="#fff"/><rect x="605.9" y="88" width="1.2" height="11" fill="#000"/><rect x="604.6" y="89" width="3.8" height="4" fill="#000"/><rect x="609.9" y="83" width="1.2" height="11" fill="#000"/><rect x="608.6" y="84" width="3.8" height="9" fill="#000"/><rect x="609.85" y="85" width="1.3" height="7" fill="#fff"/><rect x="613.9" y="79" width="1.2" height="7" fill="#000"/><rect x="612.6" y="82" width="3.8" height="1" fill="#000"/><rect x="617.9" y="81" width="1.2" height="11" fill="#d9143c"/><rect x="616.6" y="82" width="3.8" height="4" fill="#d9143c"/><rect x="621.9" y="73" width="1.2" height="12" fill="#000"/><rect x="620.6" y="77" width="3.8" height="7" fill="#000"/><rect x="621.85" y="78" width="1.3" height="5" fill="#fff"/><rect x="625.9" y="73" width="1.2" height="7" fill="#000"/><rect x="624.6" y="74" width="3.8" height="4" fill="#000"/><rect x="625.85" y="75" width="1.3" height="2" fill="#fff"/><rect x="629.9" y="64" width="1.2" height="13" fill="#000"/><rect x="628.6" y="64" width="3.8" height="11" fill="#000"/><rect x="629.85" y="65" width="1.3" height="9" fill="#fff"/><rect x="633.9" y="57" width="1.2" height="12" fill="#000"/><rect x="632.6" y="57" width="3.8" height="7" fill="#000"/><rect x="633.85" y="58" width="1.3" height="5" fill="#fff"/><rect x="637.9" y="46" width="1.2" height="14" fill="#000"/><rect x="636.6" y="46" width="3.8" height="12" fill="#000"/><rect x="637.85" y="47" width="1.3" height="10" fill="#fff"/><rect x="641.9" y="36" width="1.2" height="16" fill="#000"/><rect x="640.6" y="40" width="3.8" height="6" fill="#000"/><rect x="641.85" y="41" width="1.3" height="4" fill="#fff"/></g>
<g shape-rendering="crispEdges"><rect x="16" y="29" width="653" height="1" fill="#b2b2b2"/><rect x="16" y="296" width="653" height="1" fill="#b2b2b2"/><rect x="16" y="29" width="1" height="268" fill="#b2b2b2"/><rect x="668" y="29" width="1" height="268" fill="#b2b2b2"/><rect x="16" y="311" width="653" height="1" fill="#b2b2b2"/><rect x="16" y="404" width="653" height="1" fill="#b2b2b2"/><rect x="16" y="311" width="1" height="94" fill="#b2b2b2"/><rect x="668" y="311" width="1" height="94" fill="#b2b2b2"/><rect x="669" y="49" width="2" height="1" fill="#c4c4c4"/><rect x="669" y="66" width="2" height="1" fill="#c4c4c4"/><rect x="669" y="85" width="2" height="1" fill="#c4c4c4"/><rect x="669" y="107" width="2" height="1" fill="#c4c4c4"/><rect x="669" y="133" width="2" height="1" fill="#c4c4c4"/><rect x="669" y="165" width="2" height="1" fill="#c4c4c4"/><rect x="669" y="206" width="2" height="1" fill="#c4c4c4"/><rect x="669" y="264" width="2" height="1" fill="#c4c4c4"/><rect x="669" y="341" width="2" height="1" fill="#c4c4c4"/><rect x="669" y="357" width="2" height="1" fill="#c4c4c4"/><rect x="669" y="373" width="2" height="1" fill="#c4c4c4"/><rect x="669" y="388" width="2" height="1" fill="#c4c4c4"/><rect x="18" y="297" width="1" height="2" fill="#dedede"/><rect x="18" y="309" width="1" height="2" fill="#dedede"/><rect x="18" y="405" width="1" height="2" fill="#dedede"/><rect x="22" y="297" width="1" height="2" fill="#dedede"/><rect x="22" y="309" width="1" height="2" fill="#dedede"/><rect x="22" y="405" width="1" height="2" fill="#dedede"/><rect x="26" y="297" width="1" height="2" fill="#dedede"/><rect x="26" y="309" width="1" height="2" fill="#dedede"/><rect x="26" y="405" width="1" height="2" fill="#dedede"/><rect x="30" y="297" width="1" height="2" fill="#dedede"/><rect x="30" y="309" width="1" height="2" fill="#dedede"/><rect x="30" y="405" width="1" height="2" fill="#dedede"/><rect x="34" y="297" width="1" height="2" fill="#dedede"/><rect x="34" y="309" width="1" height="2" fill="#dedede"/><rect x="34" y="405" width="1" height="2" fill="#dedede"/><rect x="38" y="297" width="1" height="2" fill="#dedede"/><rect x="38" y="309" width="1" height="2" fill="#dedede"/><rect x="38" y="405" width="1" height="2" fill="#dedede"/><rect x="42" y="297" width="1" height="2" fill="#dedede"/><rect x="42" y="309" width="1" height="2" fill="#dedede"/><rect x="42" y="405" width="1" height="2" fill="#dedede"/><rect x="46" y="297" width="1" height="2" fill="#dedede"/><rect x="46" y="309" width="1" height="2" fill="#dedede"/><rect x="46" y="405" width="1" height="2" fill="#dedede"/><rect x="50" y="297" width="1" height="2" fill="#dedede"/><rect x="50" y="309" width="1" height="2" fill="#dedede"/><rect x="50" y="405" width="1" height="2" fill="#dedede"/><rect x="54" y="297" width="1" height="2" fill="#dedede"/><rect x="54" y="309" width="1" height="2" fill="#dedede"/><rect x="54" y="405" width="1" height="2" fill="#dedede"/><rect x="58" y="297" width="1" height="2" fill="#dedede"/><rect x="58" y="309" width="1" height="2" fill="#dedede"/><rect x="58" y="405" width="1" height="2" fill="#dedede"/><rect x="62" y="297" width="1" height="2" fill="#dedede"/><rect x="62" y="309" width="1" height="2" fill="#dedede"/><rect x="62" y="405" width="1" height="2" fill="#dedede"/><rect x="66" y="297" width="1" height="2" fill="#dedede"/><rect x="66" y="309" width="1" height="2" fill="#dedede"/><rect x="66" y="405" width="1" height="2" fill="#dedede"/><rect x="70" y="297" width="1" height="2" fill="#dedede"/><rect x="70" y="309" width="1" height="2" fill="#dedede"/><rect x="70" y="405" width="1" height="2" fill="#dedede"/><rect x="74" y="297" width="1" height="2" fill="#dedede"/><rect x="74" y="309" width="1" height="2" fill="#dedede"/><rect x="74" y="405" width="1" height="2" fill="#dedede"/><rect x="78" y="297" width="1" height="2" fill="#dedede"/><rect x="78" y="309" width="1" height="2" fill="#dedede"/><rect x="78" y="405" width="1" height="2" fill="#dedede"/><rect x="82" y="297" width="1" height="2" fill="#dedede"/><rect x="82" y="309" width="1" height="2" fill="#dedede"/><rect x="82" y="405" width="1" height="2" fill="#dedede"/><rect x="86" y="297" width="1" height="2" fill="#dedede"/><rect x="86" y="309" width="1" height="2" fill="#dedede"/><rect x="86" y="405" width="1" height="2" fill="#dedede"/><rect x="90" y="297" width="1" height="2" fill="#dedede"/><rect x="90" y="309" width="1" height="2" fill="#dedede"/><rect x="90" y="405" width="1" height="2" fill="#dedede"/><rect x="94" y="297" width="1" height="2" fill="#dedede"/><rect x="94" y="309" width="1" height="2" fill="#dedede"/><rect x="94" y="405" width="1" height="2" fill="#dedede"/><rect x="98" y="297" width="1" height="2" fill="#dedede"/><rect x="98" y="309" width="1" height="2" fill="#dedede"/><rect x="98" y="405" width="1" height="2" fill="#dedede"/><rect x="102" y="297" width="1" height="2" fill="#dedede"/><rect x="102" y="309" width="1" height="2" fill="#dedede"/><rect x="102" y="405" width="1" height="2" fill="#dedede"/><rect x="106" y="297" width="1" height="2" fill="#dedede"/><rect x="106" y="309" width="1" height="2" fill="#dedede"/><rect x="106" y="405" width="1" height="2" fill="#dedede"/><rect x="110" y="297" width="1" height="2" fill="#dedede"/><rect x="110" y="309" width="1" height="2" fill="#dedede"/><rect x="110" y="405" width="1" height="2" fill="#dedede"/><rect x="114" y="297" width="1" height="2" fill="#dedede"/><rect x="114" y="309" width="1" height="2" fill="#dedede"/><rect x="114" y="405" width="1" height="2" fill="#dedede"/><rect x="118" y="297" width="1" height="2" fill="#dedede"/><rect x="118" y="309" width="1" height="2" fill="#dedede"/><rect x="118" y="405" width="1" height="2" fill="#dedede"/><rect x="122" y="297" width="1" height="2" fill="#dedede"/><rect x="122" y="309" width="1" height="2" fill="#dedede"/><rect x="122" y="405" width="1" height="2" fill="#dedede"/><rect x="126" y="297" width="1" height="2" fill="#dedede"/><rect x="126" y="309" width="1" height="2" fill="#dedede"/><rect x="126" y="405" width="1" height="2" fill="#dedede"/><rect x="130" y="297" width="1" height="2" fill="#dedede"/><rect x="130" y="309" width="1" height="2" fill="#dedede"/><rect x="130" y="405" width="1" height="2" fill="#dedede"/><rect x="134" y="297" width="1" height="2" fill="#dedede"/><rect x="134" y="309" width="1" height="2" fill="#dedede"/><rect x="134" y="405" width="1" height="2" fill="#dedede"/><rect x="138" y="297" width="1" height="2" fill="#dedede"/><rect x="138" y="309" width="1" height="2" fill="#dedede"/><rect x="138" y="405" width="1" height="2" fill="#dedede"/><rect x="142" y="297" width="1" height="2" fill="#dedede"/><rect x="142" y="309" width="1" height="2" fill="#dedede"/><rect x="142" y="405" width="1" height="2" fill="#dedede"/><rect x="146" y="297" width="1" height="2" fill="#dedede"/><rect x="146" y="309" width="1" height="2" fill="#dedede"/><rect x="146" y="405" width="1" height="2" fill="#dedede"/><rect x="150" y="297" width="1" height="2" fill="#dedede"/><rect x="150" y="309" width="1" height="2" fill="#dedede"/><rect x="150" y="405" width="1" height="2" fill="#dedede"/><rect x="154" y="297" width="1" height="2" fill="#dedede"/><rect x="154" y="309" width="1" height="2" fill="#dedede"/><rect x="154" y="405" width="1" height="2" fill="#dedede"/><rect x="158" y="297" width="1" height="2" fill="#dedede"/><rect x="158" y="309" width="1" height="2" fill="#dedede"/><rect x="158" y="405" width="1" height="2" fill="#dedede"/><rect x="162" y="297" width="1" height="2" fill="#dedede"/><rect x="162" y="309" width="1" height="2" fill="#dedede"/><rect x="162" y="405" width="1" height="2" fill="#dedede"/><rect x="166" y="297" width="1" height="2" fill="#dedede"/><rect x="166" y="309" width="1" height="2" fill="#dedede"/><rect x="166" y="405" width="1" height="2" fill="#dedede"/><rect x="170" y="297" width="1" height="2" fill="#dedede"/><rect x="170" y="309" width="1" height="2" fill="#dedede"/><rect x="170" y="405" width="1" height="2" fill="#dedede"/><rect x="174" y="297" width="1" height="2" fill="#dedede"/><rect x="174" y="309" width="1" height="2" fill="#dedede"/><rect x="174" y="405" width="1" height="2" fill="#dedede"/><rect x="178" y="297" width="1" height="2" fill="#dedede"/><rect x="178" y="309" width="1" height="2" fill="#dedede"/><rect x="178" y="405" width="1" height="2" fill="#dedede"/><rect x="182" y="297" width="1" height="2" fill="#dedede"/><rect x="182" y="309" width="1" height="2" fill="#dedede"/><rect x="182" y="405" width="1" height="2" fill="#dedede"/><rect x="186" y="297" width="1" height="2" fill="#dedede"/><rect x="186" y="309" width="1" height="2" fill="#dedede"/><rect x="186" y="405" width="1" height="2" fill="#dedede"/><rect x="190" y="297" width="1" height="2" fill="#dedede"/><rect x="190" y="309" width="1" height="2" fill="#dedede"/><rect x="190" y="405" width="1" height="2" fill="#dedede"/><rect x="194" y="297" width="1" height="2" fill="#dedede"/><rect x="194" y="309" width="1" height="2" fill="#dedede"/><rect x="194" y="405" width="1" height="2" fill="#dedede"/><rect x="198" y="297" width="1" height="2" fill="#dedede"/><rect x="198" y="309" width="1" height="2" fill="#dedede"/><rect x="198" y="405" width="1" height="2" fill="#dedede"/><rect x="202" y="297" width="1" height="2" fill="#dedede"/><rect x="202" y="309" width="1" height="2" fill="#dedede"/><rect x="202" y="405" width="1" height="2" fill="#dedede"/><rect x="206" y="297" width="1" height="2" fill="#dedede"/><rect x="206" y="309" width="1" height="2" fill="#dedede"/><rect x="206" y="405" width="1" height="2" fill="#dedede"/><rect x="210" y="297" width="1" height="2" fill="#dedede"/><rect x="210" y="309" width="1" height="2" fill="#dedede"/><rect x="210" y="405" width="1" height="2" fill="#dedede"/><rect x="214" y="297" width="1" height="2" fill="#dedede"/><rect x="214" y="309" width="1" height="2" fill="#dedede"/><rect x="214" y="405" width="1" height="2" fill="#dedede"/><rect x="218" y="297" width="1" height="2" fill="#dedede"/><rect x="218" y="309" width="1" height="2" fill="#dedede"/><rect x="218" y="405" width="1" height="2" fill="#dedede"/><rect x="222" y="297" width="1" height="2" fill="#dedede"/><rect x="222" y="309" width="1" height="2" fill="#dedede"/><rect x="222" y="405" width="1" height="2" fill="#dedede"/><rect x="226" y="297" width="1" height="2" fill="#dedede"/><rect x="226" y="309" width="1" height="2" fill="#dedede"/><rect x="226" y="405" width="1" height="2" fill="#dedede"/><rect x="230" y="297" width="1" height="2" fill="#dedede"/><rect x="230" y="309" width="1" height="2" fill="#dedede"/><rect x="230" y="405" width="1" height="2" fill="#dedede"/><rect x="234" y="297" width="1" height="2" fill="#dedede"/><rect x="234" y="309" width="1" height="2" fill="#dedede"/><rect x="234" y="405" width="1" height="2" fill="#dedede"/><rect x="238" y="297" width="1" height="2" fill="#dedede"/><rect x="238" y="309" width="1" height="2" fill="#dedede"/><rect x="238" y="405" width="1" height="2" fill="#dedede"/><rect x="242" y="297" width="1" height="2" fill="#dedede"/><rect x="242" y="309" width="1" height="2" fill="#dedede"/><rect x="242" y="405" width="1" height="2" fill="#dedede"/><rect x="246" y="297" width="1" height="2" fill="#dedede"/><rect x="246" y="309" width="1" height="2" fill="#dedede"/><rect x="246" y="405" width="1" height="2" fill="#dedede"/><rect x="250" y="297" width="1" height="2" fill="#dedede"/><rect x="250" y="309" width="1" height="2" fill="#dedede"/><rect x="250" y="405" width="1" height="2" fill="#dedede"/><rect x="254" y="297" width="1" height="2" fill="#dedede"/><rect x="254" y="309" width="1" height="2" fill="#dedede"/><rect x="254" y="405" width="1" height="2" fill="#dedede"/><rect x="258" y="297" width="1" height="2" fill="#dedede"/><rect x="258" y="309" width="1" height="2" fill="#dedede"/><rect x="258" y="405" width="1" height="2" fill="#dedede"/><rect x="262" y="297" width="1" height="2" fill="#dedede"/><rect x="262" y="309" width="1" height="2" fill="#dedede"/><rect x="262" y="405" width="1" height="2" fill="#dedede"/><rect x="266" y="297" width="1" height="2" fill="#dedede"/><rect x="266" y="309" width="1" height="2" fill="#dedede"/><rect x="266" y="405" width="1" height="2" fill="#dedede"/><rect x="270" y="297" width="1" height="2" fill="#dedede"/><rect x="270" y="309" width="1" height="2" fill="#dedede"/><rect x="270" y="405" width="1" height="2" fill="#dedede"/><rect x="274" y="297" width="1" height="2" fill="#dedede"/><rect x="274" y="309" width="1" height="2" fill="#dedede"/><rect x="274" y="405" width="1" height="2" fill="#dedede"/><rect x="278" y="297" width="1" height="2" fill="#dedede"/><rect x="278" y="309" width="1" height="2" fill="#dedede"/><rect x="278" y="405" width="1" height="2" fill="#dedede"/><rect x="282" y="297" width="1" height="2" fill="#dedede"/><rect x="282" y="309" width="1" height="2" fill="#dedede"/><rect x="282" y="405" width="1" height="2" fill="#dedede"/><rect x="286" y="297" width="1" height="2" fill="#dedede"/><rect x="286" y="309" width="1" height="2" fill="#dedede"/><rect x="286" y="405" width="1" height="2" fill="#dedede"/><rect x="290" y="297" width="1" height="2" fill="#dedede"/><rect x="290" y="309" width="1" height="2" fill="#dedede"/><rect x="290" y="405" width="1" height="2" fill="#dedede"/><rect x="294" y="297" width="1" height="2" fill="#dedede"/><rect x="294" y="309" width="1" height="2" fill="#dedede"/><rect x="294" y="405" width="1" height="2" fill="#dedede"/><rect x="298" y="297" width="1" height="2" fill="#dedede"/><rect x="298" y="309" width="1" height="2" fill="#dedede"/><rect x="298" y="405" width="1" height="2" fill="#dedede"/><rect x="302" y="297" width="1" height="2" fill="#dedede"/><rect x="302" y="309" width="1" height="2" fill="#dedede"/><rect x="302" y="405" width="1" height="2" fill="#dedede"/><rect x="306" y="297" width="1" height="2" fill="#dedede"/><rect x="306" y="309" width="1" height="2" fill="#dedede"/><rect x="306" y="405" width="1" height="2" fill="#dedede"/><rect x="310" y="297" width="1" height="2" fill="#dedede"/><rect x="310" y="309" width="1" height="2" fill="#dedede"/><rect x="310" y="405" width="1" height="2" fill="#dedede"/><rect x="314" y="297" width="1" height="2" fill="#dedede"/><rect x="314" y="309" width="1" height="2" fill="#dedede"/><rect x="314" y="405" width="1" height="2" fill="#dedede"/><rect x="318" y="297" width="1" height="2" fill="#dedede"/><rect x="318" y="309" width="1" height="2" fill="#dedede"/><rect x="318" y="405" width="1" height="2" fill="#dedede"/><rect x="322" y="297" width="1" height="2" fill="#dedede"/><rect x="322" y="309" width="1" height="2" fill="#dedede"/><rect x="322" y="405" width="1" height="2" fill="#dedede"/><rect x="326" y="297" width="1" height="2" fill="#dedede"/><rect x="326" y="309" width="1" height="2" fill="#dedede"/><rect x="326" y="405" width="1" height="2" fill="#dedede"/><rect x="330" y="297" width="1" height="2" fill="#dedede"/><rect x="330" y="309" width="1" height="2" fill="#dedede"/><rect x="330" y="405" width="1" height="2" fill="#dedede"/><rect x="334" y="297" width="1" height="2" fill="#dedede"/><rect x="334" y="309" width="1" height="2" fill="#dedede"/><rect x="334" y="405" width="1" height="2" fill="#dedede"/><rect x="338" y="297" width="1" height="2" fill="#dedede"/><rect x="338" y="309" width="1" height="2" fill="#dedede"/><rect x="338" y="405" width="1" height="2" fill="#dedede"/><rect x="342" y="297" width="1" height="2" fill="#dedede"/><rect x="342" y="309" width="1" height="2" fill="#dedede"/><rect x="342" y="405" width="1" height="2" fill="#dedede"/><rect x="346" y="297" width="1" height="2" fill="#dedede"/><rect x="346" y="309" width="1" height="2" fill="#dedede"/><rect x="346" y="405" width="1" height="2" fill="#dedede"/><rect x="350" y="297" width="1" height="2" fill="#dedede"/><rect x="350" y="309" width="1" height="2" fill="#dedede"/><rect x="350" y="405" width="1" height="2" fill="#dedede"/><rect x="354" y="297" width="1" height="2" fill="#dedede"/><rect x="354" y="309" width="1" height="2" fill="#dedede"/><rect x="354" y="405" width="1" height="2" fill="#dedede"/><rect x="358" y="297" width="1" height="2" fill="#dedede"/><rect x="358" y="309" width="1" height="2" fill="#dedede"/><rect x="358" y="405" width="1" height="2" fill="#dedede"/><rect x="362" y="297" width="1" height="2" fill="#dedede"/><rect x="362" y="309" width="1" height="2" fill="#dedede"/><rect x="362" y="405" width="1" height="2" fill="#dedede"/><rect x="366" y="297" width="1" height="2" fill="#dedede"/><rect x="366" y="309" width="1" height="2" fill="#dedede"/><rect x="366" y="405" width="1" height="2" fill="#dedede"/><rect x="370" y="297" width="1" height="2" fill="#dedede"/><rect x="370" y="309" width="1" height="2" fill="#dedede"/><rect x="370" y="405" width="1" height="2" fill="#dedede"/><rect x="374" y="297" width="1" height="2" fill="#dedede"/><rect x="374" y="309" width="1" height="2" fill="#dedede"/><rect x="374" y="405" width="1" height="2" fill="#dedede"/><rect x="378" y="297" width="1" height="2" fill="#dedede"/><rect x="378" y="309" width="1" height="2" fill="#dedede"/><rect x="378" y="405" width="1" height="2" fill="#dedede"/><rect x="382" y="297" width="1" height="2" fill="#dedede"/><rect x="382" y="309" width="1" height="2" fill="#dedede"/><rect x="382" y="405" width="1" height="2" fill="#dedede"/><rect x="386" y="297" width="1" height="2" fill="#dedede"/><rect x="386" y="309" width="1" height="2" fill="#dedede"/><rect x="386" y="405" width="1" height="2" fill="#dedede"/><rect x="390" y="297" width="1" height="2" fill="#dedede"/><rect x="390" y="309" width="1" height="2" fill="#dedede"/><rect x="390" y="405" width="1" height="2" fill="#dedede"/><rect x="394" y="297" width="1" height="2" fill="#dedede"/><rect x="394" y="309" width="1" height="2" fill="#dedede"/><rect x="394" y="405" width="1" height="2" fill="#dedede"/><rect x="398" y="297" width="1" height="2" fill="#dedede"/><rect x="398" y="309" width="1" height="2" fill="#dedede"/><rect x="398" y="405" width="1" height="2" fill="#dedede"/><rect x="402" y="297" width="1" height="2" fill="#dedede"/><rect x="402" y="309" width="1" height="2" fill="#dedede"/><rect x="402" y="405" width="1" height="2" fill="#dedede"/><rect x="406" y="297" width="1" height="2" fill="#dedede"/><rect x="406" y="309" width="1" height="2" fill="#dedede"/><rect x="406" y="405" width="1" height="2" fill="#dedede"/><rect x="410" y="297" width="1" height="2" fill="#dedede"/><rect x="410" y="309" width="1" height="2" fill="#dedede"/><rect x="410" y="405" width="1" height="2" fill="#dedede"/><rect x="414" y="297" width="1" height="2" fill="#dedede"/><rect x="414" y="309" width="1" height="2" fill="#dedede"/><rect x="414" y="405" width="1" height="2" fill="#dedede"/><rect x="418" y="297" width="1" height="2" fill="#dedede"/><rect x="418" y="309" width="1" height="2" fill="#dedede"/><rect x="418" y="405" width="1" height="2" fill="#dedede"/><rect x="422" y="297" width="1" height="2" fill="#dedede"/><rect x="422" y="309" width="1" height="2" fill="#dedede"/><rect x="422" y="405" width="1" height="2" fill="#dedede"/><rect x="426" y="297" width="1" height="2" fill="#dedede"/><rect x="426" y="309" width="1" height="2" fill="#dedede"/><rect x="426" y="405" width="1" height="2" fill="#dedede"/><rect x="430" y="297" width="1" height="2" fill="#dedede"/><rect x="430" y="309" width="1" height="2" fill="#dedede"/><rect x="430" y="405" width="1" height="2" fill="#dedede"/><rect x="434" y="297" width="1" height="2" fill="#dedede"/><rect x="434" y="309" width="1" height="2" fill="#dedede"/><rect x="434" y="405" width="1" height="2" fill="#dedede"/><rect x="438" y="297" width="1" height="2" fill="#dedede"/><rect x="438" y="309" width="1" height="2" fill="#dedede"/><rect x="438" y="405" width="1" height="2" fill="#dedede"/><rect x="442" y="297" width="1" height="2" fill="#dedede"/><rect x="442" y="309" width="1" height="2" fill="#dedede"/><rect x="442" y="405" width="1" height="2" fill="#dedede"/><rect x="446" y="297" width="1" height="2" fill="#dedede"/><rect x="446" y="309" width="1" height="2" fill="#dedede"/><rect x="446" y="405" width="1" height="2" fill="#dedede"/><rect x="450" y="297" width="1" height="2" fill="#dedede"/><rect x="450" y="309" width="1" height="2" fill="#dedede"/><rect x="450" y="405" width="1" height="2" fill="#dedede"/><rect x="454" y="297" width="1" height="2" fill="#dedede"/><rect x="454" y="309" width="1" height="2" fill="#dedede"/><rect x="454" y="405" width="1" height="2" fill="#dedede"/><rect x="458" y="297" width="1" height="2" fill="#dedede"/><rect x="458" y="309" width="1" height="2" fill="#dedede"/><rect x="458" y="405" width="1" height="2" fill="#dedede"/><rect x="462" y="297" width="1" height="2" fill="#dedede"/><rect x="462" y="309" width="1" height="2" fill="#dedede"/><rect x="462" y="405" width="1" height="2" fill="#dedede"/><rect x="466" y="297" width="1" height="2" fill="#dedede"/><rect x="466" y="309" width="1" height="2" fill="#dedede"/><rect x="466" y="405" width="1" height="2" fill="#dedede"/><rect x="470" y="297" width="1" height="2" fill="#dedede"/><rect x="470" y="309" width="1" height="2" fill="#dedede"/><rect x="470" y="405" width="1" height="2" fill="#dedede"/><rect x="474" y="297" width="1" height="2" fill="#dedede"/><rect x="474" y="309" width="1" height="2" fill="#dedede"/><rect x="474" y="405" width="1" height="2" fill="#dedede"/><rect x="478" y="297" width="1" height="2" fill="#dedede"/><rect x="478" y="309" width="1" height="2" fill="#dedede"/><rect x="478" y="405" width="1" height="2" fill="#dedede"/><rect x="482" y="297" width="1" height="2" fill="#dedede"/><rect x="482" y="309" width="1" height="2" fill="#dedede"/><rect x="482" y="405" width="1" height="2" fill="#dedede"/><rect x="486" y="297" width="1" height="2" fill="#dedede"/><rect x="486" y="309" width="1" height="2" fill="#dedede"/><rect x="486" y="405" width="1" height="2" fill="#dedede"/><rect x="490" y="297" width="1" height="2" fill="#dedede"/><rect x="490" y="309" width="1" height="2" fill="#dedede"/><rect x="490" y="405" width="1" height="2" fill="#dedede"/><rect x="494" y="297" width="1" height="2" fill="#dedede"/><rect x="494" y="309" width="1" height="2" fill="#dedede"/><rect x="494" y="405" width="1" height="2" fill="#dedede"/><rect x="498" y="297" width="1" height="2" fill="#dedede"/><rect x="498" y="309" width="1" height="2" fill="#dedede"/><rect x="498" y="405" width="1" height="2" fill="#dedede"/><rect x="502" y="297" width="1" height="2" fill="#dedede"/><rect x="502" y="309" width="1" height="2" fill="#dedede"/><rect x="502" y="405" width="1" height="2" fill="#dedede"/><rect x="506" y="297" width="1" height="2" fill="#dedede"/><rect x="506" y="309" width="1" height="2" fill="#dedede"/><rect x="506" y="405" width="1" height="2" fill="#dedede"/><rect x="510" y="297" width="1" height="2" fill="#dedede"/><rect x="510" y="309" width="1" height="2" fill="#dedede"/><rect x="510" y="405" width="1" height="2" fill="#dedede"/><rect x="514" y="297" width="1" height="2" fill="#dedede"/><rect x="514" y="309" width="1" height="2" fill="#dedede"/><rect x="514" y="405" width="1" height="2" fill="#dedede"/><rect x="518" y="297" width="1" height="2" fill="#dedede"/><rect x="518" y="309" width="1" height="2" fill="#dedede"/><rect x="518" y="405" width="1" height="2" fill="#dedede"/><rect x="522" y="297" width="1" height="2" fill="#dedede"/><rect x="522" y="309" width="1" height="2" fill="#dedede"/><rect x="522" y="405" width="1" height="2" fill="#dedede"/><rect x="526" y="297" width="1" height="2" fill="#dedede"/><rect x="526" y="309" width="1" height="2" fill="#dedede"/><rect x="526" y="405" width="1" height="2" fill="#dedede"/><rect x="530" y="297" width="1" height="2" fill="#dedede"/><rect x="530" y="309" width="1" height="2" fill="#dedede"/><rect x="530" y="405" width="1" height="2" fill="#dedede"/><rect x="534" y="297" width="1" height="2" fill="#dedede"/><rect x="534" y="309" width="1" height="2" fill="#dedede"/><rect x="534" y="405" width="1" height="2" fill="#dedede"/><rect x="538" y="297" width="1" height="2" fill="#dedede"/><rect x="538" y="309" width="1" height="2" fill="#dedede"/><rect x="538" y="405" width="1" height="2" fill="#dedede"/><rect x="542" y="297" width="1" height="2" fill="#dedede"/><rect x="542" y="309" width="1" height="2" fill="#dedede"/><rect x="542" y="405" width="1" height="2" fill="#dedede"/><rect x="546" y="297" width="1" height="2" fill="#dedede"/><rect x="546" y="309" width="1" height="2" fill="#dedede"/><rect x="546" y="405" width="1" height="2" fill="#dedede"/><rect x="550" y="297" width="1" height="2" fill="#dedede"/><rect x="550" y="309" width="1" height="2" fill="#dedede"/><rect x="550" y="405" width="1" height="2" fill="#dedede"/><rect x="554" y="297" width="1" height="2" fill="#dedede"/><rect x="554" y="309" width="1" height="2" fill="#dedede"/><rect x="554" y="405" width="1" height="2" fill="#dedede"/><rect x="558" y="297" width="1" height="2" fill="#dedede"/><rect x="558" y="309" width="1" height="2" fill="#dedede"/><rect x="558" y="405" width="1" height="2" fill="#dedede"/><rect x="562" y="297" width="1" height="2" fill="#dedede"/><rect x="562" y="309" width="1" height="2" fill="#dedede"/><rect x="562" y="405" width="1" height="2" fill="#dedede"/><rect x="566" y="297" width="1" height="2" fill="#dedede"/><rect x="566" y="309" width="1" height="2" fill="#dedede"/><rect x="566" y="405" width="1" height="2" fill="#dedede"/><rect x="570" y="297" width="1" height="2" fill="#dedede"/><rect x="570" y="309" width="1" height="2" fill="#dedede"/><rect x="570" y="405" width="1" height="2" fill="#dedede"/><rect x="574" y="297" width="1" height="2" fill="#dedede"/><rect x="574" y="309" width="1" height="2" fill="#dedede"/><rect x="574" y="405" width="1" height="2" fill="#dedede"/><rect x="578" y="297" width="1" height="2" fill="#dedede"/><rect x="578" y="309" width="1" height="2" fill="#dedede"/><rect x="578" y="405" width="1" height="2" fill="#dedede"/><rect x="582" y="297" width="1" height="2" fill="#dedede"/><rect x="582" y="309" width="1" height="2" fill="#dedede"/><rect x="582" y="405" width="1" height="2" fill="#dedede"/><rect x="586" y="297" width="1" height="2" fill="#dedede"/><rect x="586" y="309" width="1" height="2" fill="#dedede"/><rect x="586" y="405" width="1" height="2" fill="#dedede"/><rect x="590" y="297" width="1" height="2" fill="#dedede"/><rect x="590" y="309" width="1" height="2" fill="#dedede"/><rect x="590" y="405" width="1" height="2" fill="#dedede"/><rect x="594" y="297" width="1" height="2" fill="#dedede"/><rect x="594" y="309" width="1" height="2" fill="#dedede"/><rect x="594" y="405" width="1" height="2" fill="#dedede"/><rect x="598" y="297" width="1" height="2" fill="#dedede"/><rect x="598" y="309" width="1" height="2" fill="#dedede"/><rect x="598" y="405" width="1" height="2" fill="#dedede"/><rect x="602" y="297" width="1" height="2" fill="#dedede"/><rect x="602" y="309" width="1" height="2" fill="#dedede"/><rect x="602" y="405" width="1" height="2" fill="#dedede"/><rect x="606" y="297" width="1" height="2" fill="#dedede"/><rect x="606" y="309" width="1" height="2" fill="#dedede"/><rect x="606" y="405" width="1" height="2" fill="#dedede"/><rect x="610" y="297" width="1" height="2" fill="#dedede"/><rect x="610" y="309" width="1" height="2" fill="#dedede"/><rect x="610" y="405" width="1" height="2" fill="#dedede"/><rect x="614" y="297" width="1" height="2" fill="#dedede"/><rect x="614" y="309" width="1" height="2" fill="#dedede"/><rect x="614" y="405" width="1" height="2" fill="#dedede"/><rect x="618" y="297" width="1" height="2" fill="#dedede"/><rect x="618" y="309" width="1" height="2" fill="#dedede"/><rect x="618" y="405" width="1" height="2" fill="#dedede"/><rect x="622" y="297" width="1" height="2" fill="#dedede"/><rect x="622" y="309" width="1" height="2" fill="#dedede"/><rect x="622" y="405" width="1" height="2" fill="#dedede"/><rect x="626" y="297" width="1" height="2" fill="#dedede"/><rect x="626" y="309" width="1" height="2" fill="#dedede"/><rect x="626" y="405" width="1" height="2" fill="#dedede"/><rect x="630" y="297" width="1" height="2" fill="#dedede"/><rect x="630" y="309" width="1" height="2" fill="#dedede"/><rect x="630" y="405" width="1" height="2" fill="#dedede"/><rect x="634" y="297" width="1" height="2" fill="#dedede"/><rect x="634" y="309" width="1" height="2" fill="#dedede"/><rect x="634" y="405" width="1" height="2" fill="#dedede"/><rect x="638" y="297" width="1" height="2" fill="#dedede"/><rect x="638" y="309" width="1" height="2" fill="#dedede"/><rect x="638" y="405" width="1" height="2" fill="#dedede"/><rect x="642" y="297" width="1" height="2" fill="#dedede"/><rect x="642" y="309" width="1" height="2" fill="#dedede"/><rect x="642" y="405" width="1" height="2" fill="#dedede"/><rect x="646" y="297" width="1" height="2" fill="#dedede"/><rect x="646" y="309" width="1" height="2" fill="#dedede"/><rect x="646" y="405" width="1" height="2" fill="#dedede"/><rect x="650" y="297" width="1" height="2" fill="#dedede"/><rect x="650" y="309" width="1" height="2" fill="#dedede"/><rect x="650" y="405" width="1" height="2" fill="#dedede"/><rect x="654" y="297" width="1" height="2" fill="#dedede"/><rect x="654" y="309" width="1" height="2" fill="#dedede"/><rect x="654" y="405" width="1" height="2" fill="#dedede"/><rect x="658" y="297" width="1" height="2" fill="#dedede"/><rect x="658" y="309" width="1" height="2" fill="#dedede"/><rect x="658" y="405" width="1" height="2" fill="#dedede"/><rect x="662" y="297" width="1" height="2" fill="#dedede"/><rect x="662" y="309" width="1" height="2" fill="#dedede"/><rect x="662" y="405" width="1" height="2" fill="#dedede"/><rect x="666" y="297" width="1" height="2" fill="#dedede"/><rect x="666" y="309" width="1" height="2" fill="#dedede"/><rect x="666" y="405" width="1" height="2" fill="#dedede"/><rect x="22" y="297" width="1" height="2" fill="#c2c2c2"/><rect x="22" y="309" width="1" height="2" fill="#c2c2c2"/><rect x="22" y="405" width="1" height="2" fill="#c2c2c2"/><rect x="38" y="297" width="1" height="2" fill="#c2c2c2"/><rect x="38" y="309" width="1" height="2" fill="#c2c2c2"/><rect x="38" y="405" width="1" height="2" fill="#c2c2c2"/><rect x="58" y="297" width="1" height="2" fill="#c2c2c2"/><rect x="58" y="309" width="1" height="2" fill="#c2c2c2"/><rect x="58" y="405" width="1" height="2" fill="#c2c2c2"/><rect x="74" y="297" width="1" height="2" fill="#c2c2c2"/><rect x="74" y="309" width="1" height="2" fill="#c2c2c2"/><rect x="74" y="405" width="1" height="2" fill="#c2c2c2"/><rect x="90" y="297" width="1" height="2" fill="#c2c2c2"/><rect x="90" y="309" width="1" height="2" fill="#c2c2c2"/><rect x="90" y="405" width="1" height="2" fill="#c2c2c2"/><rect x="110" y="297" width="1" height="2" fill="#c2c2c2"/><rect x="110" y="309" width="1" height="2" fill="#c2c2c2"/><rect x="110" y="405" width="1" height="2" fill="#c2c2c2"/><rect x="126" y="297" width="1" height="2" fill="#c2c2c2"/><rect x="126" y="309" width="1" height="2" fill="#c2c2c2"/><rect x="126" y="405" width="1" height="2" fill="#c2c2c2"/><rect x="142" y="297" width="1" height="2" fill="#c2c2c2"/><rect x="142" y="309" width="1" height="2" fill="#c2c2c2"/><rect x="142" y="405" width="1" height="2" fill="#c2c2c2"/><rect x="162" y="297" width="1" height="2" fill="#c2c2c2"/><rect x="162" y="309" width="1" height="2" fill="#c2c2c2"/><rect x="162" y="405" width="1" height="2" fill="#c2c2c2"/><rect x="178" y="297" width="1" height="2" fill="#c2c2c2"/><rect x="178" y="309" width="1" height="2" fill="#c2c2c2"/><rect x="178" y="405" width="1" height="2" fill="#c2c2c2"/><rect x="194" y="297" width="1" height="2" fill="#c2c2c2"/><rect x="194" y="309" width="1" height="2" fill="#c2c2c2"/><rect x="194" y="405" width="1" height="2" fill="#c2c2c2"/><rect x="214" y="297" width="1" height="2" fill="#c2c2c2"/><rect x="214" y="309" width="1" height="2" fill="#c2c2c2"/><rect x="214" y="405" width="1" height="2" fill="#c2c2c2"/><rect x="230" y="297" width="1" height="2" fill="#c2c2c2"/><rect x="230" y="309" width="1" height="2" fill="#c2c2c2"/><rect x="230" y="405" width="1" height="2" fill="#c2c2c2"/><rect x="246" y="297" width="1" height="2" fill="#c2c2c2"/><rect x="246" y="309" width="1" height="2" fill="#c2c2c2"/><rect x="246" y="405" width="1" height="2" fill="#c2c2c2"/><rect x="266" y="297" width="1" height="2" fill="#c2c2c2"/><rect x="266" y="309" width="1" height="2" fill="#c2c2c2"/><rect x="266" y="405" width="1" height="2" fill="#c2c2c2"/><rect x="282" y="297" width="1" height="2" fill="#c2c2c2"/><rect x="282" y="309" width="1" height="2" fill="#c2c2c2"/><rect x="282" y="405" width="1" height="2" fill="#c2c2c2"/><rect x="302" y="297" width="1" height="2" fill="#c2c2c2"/><rect x="302" y="309" width="1" height="2" fill="#c2c2c2"/><rect x="302" y="405" width="1" height="2" fill="#c2c2c2"/><rect x="318" y="297" width="1" height="2" fill="#c2c2c2"/><rect x="318" y="309" width="1" height="2" fill="#c2c2c2"/><rect x="318" y="405" width="1" height="2" fill="#c2c2c2"/><rect x="334" y="297" width="1" height="2" fill="#c2c2c2"/><rect x="334" y="309" width="1" height="2" fill="#c2c2c2"/><rect x="334" y="405" width="1" height="2" fill="#c2c2c2"/><rect x="354" y="297" width="1" height="2" fill="#c2c2c2"/><rect x="354" y="309" width="1" height="2" fill="#c2c2c2"/><rect x="354" y="405" width="1" height="2" fill="#c2c2c2"/><rect x="370" y="297" width="1" height="2" fill="#c2c2c2"/><rect x="370" y="309" width="1" height="2" fill="#c2c2c2"/><rect x="370" y="405" width="1" height="2" fill="#c2c2c2"/><rect x="386" y="297" width="1" height="2" fill="#c2c2c2"/><rect x="386" y="309" width="1" height="2" fill="#c2c2c2"/><rect x="386" y="405" width="1" height="2" fill="#c2c2c2"/><rect x="402" y="297" width="1" height="2" fill="#c2c2c2"/><rect x="402" y="309" width="1" height="2" fill="#c2c2c2"/><rect x="402" y="405" width="1" height="2" fill="#c2c2c2"/><rect x="422" y="297" width="1" height="2" fill="#c2c2c2"/><rect x="422" y="309" width="1" height="2" fill="#c2c2c2"/><rect x="422" y="405" width="1" height="2" fill="#c2c2c2"/><rect x="438" y="297" width="1" height="2" fill="#c2c2c2"/><rect x="438" y="309" width="1" height="2" fill="#c2c2c2"/><rect x="438" y="405" width="1" height="2" fill="#c2c2c2"/><rect x="454" y="297" width="1" height="2" fill="#c2c2c2"/><rect x="454" y="309" width="1" height="2" fill="#c2c2c2"/><rect x="454" y="405" width="1" height="2" fill="#c2c2c2"/><rect x="474" y="297" width="1" height="2" fill="#c2c2c2"/><rect x="474" y="309" width="1" height="2" fill="#c2c2c2"/><rect x="474" y="405" width="1" height="2" fill="#c2c2c2"/><rect x="490" y="297" width="1" height="2" fill="#c2c2c2"/><rect x="490" y="309" width="1" height="2" fill="#c2c2c2"/><rect x="490" y="405" width="1" height="2" fill="#c2c2c2"/><rect x="510" y="297" width="1" height="2" fill="#c2c2c2"/><rect x="510" y="309" width="1" height="2" fill="#c2c2c2"/><rect x="510" y="405" width="1" height="2" fill="#c2c2c2"/><rect x="526" y="297" width="1" height="2" fill="#c2c2c2"/><rect x="526" y="309" width="1" height="2" fill="#c2c2c2"/><rect x="526" y="405" width="1" height="2" fill="#c2c2c2"/><rect x="542" y="297" width="1" height="2" fill="#c2c2c2"/><rect x="542" y="309" width="1" height="2" fill="#c2c2c2"/><rect x="542" y="405" width="1" height="2" fill="#c2c2c2"/><rect x="562" y="297" width="1" height="2" fill="#c2c2c2"/><rect x="562" y="309" width="1" height="2" fill="#c2c2c2"/><rect x="562" y="405" width="1" height="2" fill="#c2c2c2"/><rect x="578" y="297" width="1" height="2" fill="#c2c2c2"/><rect x="578" y="309" width="1" height="2" fill="#c2c2c2"/><rect x="578" y="405" width="1" height="2" fill="#c2c2c2"/><rect x="598" y="297" width="1" height="2" fill="#c2c2c2"/><rect x="598" y="309" width="1" height="2" fill="#c2c2c2"/><rect x="598" y="405" width="1" height="2" fill="#c2c2c2"/><rect x="614" y="297" width="1" height="2" fill="#c2c2c2"/><rect x="614" y="309" width="1" height="2" fill="#c2c2c2"/><rect x="614" y="405" width="1" height="2" fill="#c2c2c2"/><rect x="630" y="297" width="1" height="2" fill="#c2c2c2"/><rect x="630" y="309" width="1" height="2" fill="#c2c2c2"/><rect x="630" y="405" width="1" height="2" fill="#c2c2c2"/><rect x="646" y="297" width="1" height="2" fill="#c2c2c2"/><rect x="646" y="309" width="1" height="2" fill="#c2c2c2"/><rect x="646" y="405" width="1" height="2" fill="#c2c2c2"/></g>
<text x="19.37" y="307.2" font-family="Liberation Sans, sans-serif" font-size="9.2" font-weight="normal" fill="#000" stroke="#000" stroke-width="0.25" xml:space="preserve">M</text>
<text x="19.37" y="415.3" font-family="Liberation Sans, sans-serif" font-size="9.2" font-weight="normal" fill="#000" stroke="#000" stroke-width="0.25" xml:space="preserve">M</text>
<text x="36.90" y="307.2" font-family="Liberation Sans, sans-serif" font-size="9.2" font-weight="normal" fill="#000" stroke="#000" stroke-width="0.25" xml:space="preserve">J</text>
<text x="36.90" y="415.3" font-family="Liberation Sans, sans-serif" font-size="9.2" font-weight="normal" fill="#000" stroke="#000" stroke-width="0.25" xml:space="preserve">J</text>
<text x="56.90" y="307.2" font-family="Liberation Sans, sans-serif" font-size="9.2" font-weight="normal" fill="#000" stroke="#000" stroke-width="0.25" xml:space="preserve">J</text>
<text x="56.90" y="415.3" font-family="Liberation Sans, sans-serif" font-size="9.2" font-weight="normal" fill="#000" stroke="#000" stroke-width="0.25" xml:space="preserve">J</text>
<text x="72.13" y="307.2" font-family="Liberation Sans, sans-serif" font-size="9.2" font-weight="normal" fill="#000" stroke="#000" stroke-width="0.25" xml:space="preserve">A</text>
<text x="72.13" y="415.3" font-family="Liberation Sans, sans-serif" font-size="9.2" font-weight="normal" fill="#000" stroke="#000" stroke-width="0.25" xml:space="preserve">A</text>
<text x="88.13" y="307.2" font-family="Liberation Sans, sans-serif" font-size="9.2" font-weight="normal" fill="#000" stroke="#000" stroke-width="0.25" xml:space="preserve">S</text>
<text x="88.13" y="415.3" font-family="Liberation Sans, sans-serif" font-size="9.2" font-weight="normal" fill="#000" stroke="#000" stroke-width="0.25" xml:space="preserve">S</text>
<text x="107.62" y="307.2" font-family="Liberation Sans, sans-serif" font-size="9.2" font-weight="normal" fill="#000" stroke="#000" stroke-width="0.25" xml:space="preserve">O</text>
<text x="107.62" y="415.3" font-family="Liberation Sans, sans-serif" font-size="9.2" font-weight="normal" fill="#000" stroke="#000" stroke-width="0.25" xml:space="preserve">O</text>
<text x="123.88" y="307.2" font-family="Liberation Sans, sans-serif" font-size="9.2" font-weight="normal" fill="#000" stroke="#000" stroke-width="0.25" xml:space="preserve">N</text>
<text x="123.88" y="415.3" font-family="Liberation Sans, sans-serif" font-size="9.2" font-weight="normal" fill="#000" stroke="#000" stroke-width="0.25" xml:space="preserve">N</text>
<text x="139.88" y="307.2" font-family="Liberation Sans, sans-serif" font-size="9.2" font-weight="normal" fill="#000" stroke="#000" stroke-width="0.25" xml:space="preserve">D</text>
<text x="139.88" y="415.3" font-family="Liberation Sans, sans-serif" font-size="9.2" font-weight="normal" fill="#000" stroke="#000" stroke-width="0.25" xml:space="preserve">D</text>
<text x="157.30 162.60" y="307.2" font-family="Liberation Sans, sans-serif" font-size="10.4" font-weight="bold" fill="#000" stroke="#000" stroke-width="0.35" xml:space="preserve">09</text>
<text x="157.30 162.60" y="415.3" font-family="Liberation Sans, sans-serif" font-size="10.4" font-weight="bold" fill="#000" stroke="#000" stroke-width="0.35" xml:space="preserve">09</text>
<text x="176.39" y="307.2" font-family="Liberation Sans, sans-serif" font-size="9.2" font-weight="normal" fill="#000" stroke="#000" stroke-width="0.25" xml:space="preserve">F</text>
<text x="176.39" y="415.3" font-family="Liberation Sans, sans-serif" font-size="9.2" font-weight="normal" fill="#000" stroke="#000" stroke-width="0.25" xml:space="preserve">F</text>
<text x="191.37" y="307.2" font-family="Liberation Sans, sans-serif" font-size="9.2" font-weight="normal" fill="#000" stroke="#000" stroke-width="0.25" xml:space="preserve">M</text>
<text x="191.37" y="415.3" font-family="Liberation Sans, sans-serif" font-size="9.2" font-weight="normal" fill="#000" stroke="#000" stroke-width="0.25" xml:space="preserve">M</text>
<text x="212.13" y="307.2" font-family="Liberation Sans, sans-serif" font-size="9.2" font-weight="normal" fill="#000" stroke="#000" stroke-width="0.25" xml:space="preserve">A</text>
<text x="212.13" y="415.3" font-family="Liberation Sans, sans-serif" font-size="9.2" font-weight="normal" fill="#000" stroke="#000" stroke-width="0.25" xml:space="preserve">A</text>
<text x="227.37" y="307.2" font-family="Liberation Sans, sans-serif" font-size="9.2" font-weight="normal" fill="#000" stroke="#000" stroke-width="0.25" xml:space="preserve">M</text>
<text x="227.37" y="415.3" font-family="Liberation Sans, sans-serif" font-size="9.2" font-weight="normal" fill="#000" stroke="#000" stroke-width="0.25" xml:space="preserve">M</text>
<text x="244.90" y="307.2" font-family="Liberation Sans, sans-serif" font-size="9.2" font-weight="normal" fill="#000" stroke="#000" stroke-width="0.25" xml:space="preserve">J</text>
<text x="244.90" y="415.3" font-family="Liberation Sans, sans-serif" font-size="9.2" font-weight="normal" fill="#000" stroke="#000" stroke-width="0.25" xml:space="preserve">J</text>
<text x="264.90" y="307.2" font-family="Liberation Sans, sans-serif" font-size="9.2" font-weight="normal" fill="#000" stroke="#000" stroke-width="0.25" xml:space="preserve">J</text>
<text x="264.90" y="415.3" font-family="Liberation Sans, sans-serif" font-size="9.2" font-weight="normal" fill="#000" stroke="#000" stroke-width="0.25" xml:space="preserve">J</text>
<text x="280.13" y="307.2" font-family="Liberation Sans, sans-serif" font-size="9.2" font-weight="normal" fill="#000" stroke="#000" stroke-width="0.25" xml:space="preserve">A</text>
<text x="280.13" y="415.3" font-family="Liberation Sans, sans-serif" font-size="9.2" font-weight="normal" fill="#000" stroke="#000" stroke-width="0.25" xml:space="preserve">A</text>
<text x="300.13" y="307.2" font-family="Liberation Sans, sans-serif" font-size="9.2" font-weight="normal" fill="#000" stroke="#000" stroke-width="0.25" xml:space="preserve">S</text>
<text x="300.13" y="415.3" font-family="Liberation Sans, sans-serif" font-size="9.2" font-weight="normal" fill="#000" stroke="#000" stroke-width="0.25" xml:space="preserve">S</text>
<text x="315.62" y="307.2" font-family="Liberation Sans, sans-serif" font-size="9.2" font-weight="normal" fill="#000" stroke="#000" stroke-width="0.25" xml:space="preserve">O</text>
<text x="315.62" y="415.3" font-family="Liberation Sans, sans-serif" font-size="9.2" font-weight="normal" fill="#000" stroke="#000" stroke-width="0.25" xml:space="preserve">O</text>
<text x="331.88" y="307.2" font-family="Liberation Sans, sans-serif" font-size="9.2" font-weight="normal" fill="#000" stroke="#000" stroke-width="0.25" xml:space="preserve">N</text>
<text x="331.88" y="415.3" font-family="Liberation Sans, sans-serif" font-size="9.2" font-weight="normal" fill="#000" stroke="#000" stroke-width="0.25" xml:space="preserve">N</text>
<text x="351.88" y="307.2" font-family="Liberation Sans, sans-serif" font-size="9.2" font-weight="normal" fill="#000" stroke="#000" stroke-width="0.25" xml:space="preserve">D</text>
<text x="351.88" y="415.3" font-family="Liberation Sans, sans-serif" font-size="9.2" font-weight="normal" fill="#000" stroke="#000" stroke-width="0.25" xml:space="preserve">D</text>
<text x="365.30 370.60" y="307.2" font-family="Liberation Sans, sans-serif" font-size="10.4" font-weight="bold" fill="#000" stroke="#000" stroke-width="0.35" xml:space="preserve"> 0</text>
<path transform="translate(365.30,307.2) scale(0.00508,-0.00508)" d="M478 0V1170L140 959V1180L493 1409H759V0Z" fill="#000" stroke='#000' stroke-width='68.92307692307692'/>
<text x="365.30 370.60" y="415.3" font-family="Liberation Sans, sans-serif" font-size="10.4" font-weight="bold" fill="#000" stroke="#000" stroke-width="0.35" xml:space="preserve"> 0</text>
<path transform="translate(365.30,415.3) scale(0.00508,-0.00508)" d="M478 0V1170L140 959V1180L493 1409H759V0Z" fill="#000" stroke='#000' stroke-width='68.92307692307692'/>
<text x="384.39" y="307.2" font-family="Liberation Sans, sans-serif" font-size="9.2" font-weight="normal" fill="#000" stroke="#000" stroke-width="0.25" xml:space="preserve">F</text>
<text x="384.39" y="415.3" font-family="Liberation Sans, sans-serif" font-size="9.2" font-weight="normal" fill="#000" stroke="#000" stroke-width="0.25" xml:space="preserve">F</text>
<text x="399.37" y="307.2" font-family="Liberation Sans, sans-serif" font-size="9.2" font-weight="normal" fill="#000" stroke="#000" stroke-width="0.25" xml:space="preserve">M</text>
<text x="399.37" y="415.3" font-family="Liberation Sans, sans-serif" font-size="9.2" font-weight="normal" fill="#000" stroke="#000" stroke-width="0.25" xml:space="preserve">M</text>
<text x="420.13" y="307.2" font-family="Liberation Sans, sans-serif" font-size="9.2" font-weight="normal" fill="#000" stroke="#000" stroke-width="0.25" xml:space="preserve">A</text>
<text x="420.13" y="415.3" font-family="Liberation Sans, sans-serif" font-size="9.2" font-weight="normal" fill="#000" stroke="#000" stroke-width="0.25" xml:space="preserve">A</text>
<text x="435.37" y="307.2" font-family="Liberation Sans, sans-serif" font-size="9.2" font-weight="normal" fill="#000" stroke="#000" stroke-width="0.25" xml:space="preserve">M</text>
<text x="435.37" y="415.3" font-family="Liberation Sans, sans-serif" font-size="9.2" font-weight="normal" fill="#000" stroke="#000" stroke-width="0.25" xml:space="preserve">M</text>
<text x="452.90" y="307.2" font-family="Liberation Sans, sans-serif" font-size="9.2" font-weight="normal" fill="#000" stroke="#000" stroke-width="0.25" xml:space="preserve">J</text>
<text x="452.90" y="415.3" font-family="Liberation Sans, sans-serif" font-size="9.2" font-weight="normal" fill="#000" stroke="#000" stroke-width="0.25" xml:space="preserve">J</text>
<text x="472.90" y="307.2" font-family="Liberation Sans, sans-serif" font-size="9.2" font-weight="normal" fill="#000" stroke="#000" stroke-width="0.25" xml:space="preserve">J</text>
<text x="472.90" y="415.3" font-family="Liberation Sans, sans-serif" font-size="9.2" font-weight="normal" fill="#000" stroke="#000" stroke-width="0.25" xml:space="preserve">J</text>
<text x="488.13" y="307.2" font-family="Liberation Sans, sans-serif" font-size="9.2" font-weight="normal" fill="#000" stroke="#000" stroke-width="0.25" xml:space="preserve">A</text>
<text x="488.13" y="415.3" font-family="Liberation Sans, sans-serif" font-size="9.2" font-weight="normal" fill="#000" stroke="#000" stroke-width="0.25" xml:space="preserve">A</text>
<text x="508.13" y="307.2" font-family="Liberation Sans, sans-serif" font-size="9.2" font-weight="normal" fill="#000" stroke="#000" stroke-width="0.25" xml:space="preserve">S</text>
<text x="508.13" y="415.3" font-family="Liberation Sans, sans-serif" font-size="9.2" font-weight="normal" fill="#000" stroke="#000" stroke-width="0.25" xml:space="preserve">S</text>
<text x="523.62" y="307.2" font-family="Liberation Sans, sans-serif" font-size="9.2" font-weight="normal" fill="#000" stroke="#000" stroke-width="0.25" xml:space="preserve">O</text>
<text x="523.62" y="415.3" font-family="Liberation Sans, sans-serif" font-size="9.2" font-weight="normal" fill="#000" stroke="#000" stroke-width="0.25" xml:space="preserve">O</text>
<text x="539.88" y="307.2" font-family="Liberation Sans, sans-serif" font-size="9.2" font-weight="normal" fill="#000" stroke="#000" stroke-width="0.25" xml:space="preserve">N</text>
<text x="539.88" y="415.3" font-family="Liberation Sans, sans-serif" font-size="9.2" font-weight="normal" fill="#000" stroke="#000" stroke-width="0.25" xml:space="preserve">N</text>
<text x="559.88" y="307.2" font-family="Liberation Sans, sans-serif" font-size="9.2" font-weight="normal" fill="#000" stroke="#000" stroke-width="0.25" xml:space="preserve">D</text>
<text x="559.88" y="415.3" font-family="Liberation Sans, sans-serif" font-size="9.2" font-weight="normal" fill="#000" stroke="#000" stroke-width="0.25" xml:space="preserve">D</text>
<path transform="translate(573.30,307.2) scale(0.00508,-0.00508)" d="M478 0V1170L140 959V1180L493 1409H759V0Z" fill="#000" stroke='#000' stroke-width='68.92307692307692'/>
<path transform="translate(578.60,307.2) scale(0.00508,-0.00508)" d="M478 0V1170L140 959V1180L493 1409H759V0Z" fill="#000" stroke='#000' stroke-width='68.92307692307692'/>
<path transform="translate(573.30,415.3) scale(0.00508,-0.00508)" d="M478 0V1170L140 959V1180L493 1409H759V0Z" fill="#000" stroke='#000' stroke-width='68.92307692307692'/>
<path transform="translate(578.60,415.3) scale(0.00508,-0.00508)" d="M478 0V1170L140 959V1180L493 1409H759V0Z" fill="#000" stroke='#000' stroke-width='68.92307692307692'/>
<text x="596.39" y="307.2" font-family="Liberation Sans, sans-serif" font-size="9.2" font-weight="normal" fill="#000" stroke="#000" stroke-width="0.25" xml:space="preserve">F</text>
<text x="596.39" y="415.3" font-family="Liberation Sans, sans-serif" font-size="9.2" font-weight="normal" fill="#000" stroke="#000" stroke-width="0.25" xml:space="preserve">F</text>
<text x="611.37" y="307.2" font-family="Liberation Sans, sans-serif" font-size="9.2" font-weight="normal" fill="#000" stroke="#000" stroke-width="0.25" xml:space="preserve">M</text>
<text x="611.37" y="415.3" font-family="Liberation Sans, sans-serif" font-size="9.2" font-weight="normal" fill="#000" stroke="#000" stroke-width="0.25" xml:space="preserve">M</text>
<text x="628.13" y="307.2" font-family="Liberation Sans, sans-serif" font-size="9.2" font-weight="normal" fill="#000" stroke="#000" stroke-width="0.25" xml:space="preserve">A</text>
<text x="628.13" y="415.3" font-family="Liberation Sans, sans-serif" font-size="9.2" font-weight="normal" fill="#000" stroke="#000" stroke-width="0.25" xml:space="preserve">A</text>
<text x="643.37" y="307.2" font-family="Liberation Sans, sans-serif" font-size="9.2" font-weight="normal" fill="#000" stroke="#000" stroke-width="0.25" xml:space="preserve">M</text>
<text x="643.37" y="415.3" font-family="Liberation Sans, sans-serif" font-size="9.2" font-weight="normal" fill="#000" stroke="#000" stroke-width="0.25" xml:space="preserve">M</text>
<text x="672.50 677.95" y="52.8" font-family="Liberation Sans, sans-serif" font-size="9.8" font-weight="normal" fill="#000" xml:space="preserve">45</text>
<text x="672.50 677.95" y="69.6" font-family="Liberation Sans, sans-serif" font-size="9.8" font-weight="normal" fill="#000" xml:space="preserve">40</text>
<text x="672.50 677.95" y="110.7" font-family="Liberation Sans, sans-serif" font-size="9.8" font-weight="normal" fill="#000" xml:space="preserve">30</text>
<text x="672.50 677.95" y="136.8" font-family="Liberation Sans, sans-serif" font-size="9.8" font-weight="normal" fill="#000" xml:space="preserve">25</text>
<text x="672.50 677.95" y="168.6" font-family="Liberation Sans, sans-serif" font-size="9.8" font-weight="normal" fill="#000" xml:space="preserve">20</text>
<text x="672.50 677.95" y="209.7" font-family="Liberation Sans, sans-serif" font-size="9.8" font-weight="normal" fill="#000" xml:space="preserve"> 5</text>
<path transform="translate(672.50,209.7) scale(0.00479,-0.00479)" d="M515 0V1237L197 1010V1180L530 1409H696V0Z" fill="#000"/>
<text x="672.50 677.95" y="267.6" font-family="Liberation Sans, sans-serif" font-size="9.8" font-weight="normal" fill="#000" xml:space="preserve"> 0</text>
<path transform="translate(672.50,267.6) scale(0.00479,-0.00479)" d="M515 0V1237L197 1010V1180L530 1409H696V0Z" fill="#000"/>
<text x="672.50 677.95" y="344.8" font-family="Liberation Sans, sans-serif" font-size="9.8" font-weight="normal" fill="#000" xml:space="preserve">70</text>
<text x="672.50 677.95" y="360.6" font-family="Liberation Sans, sans-serif" font-size="9.8" font-weight="normal" fill="#000" xml:space="preserve">50</text>
<text x="672.50 677.95" y="376.3" font-family="Liberation Sans, sans-serif" font-size="9.8" font-weight="normal" fill="#000" xml:space="preserve">30</text>
<text x="672.50 677.95" y="392.1" font-family="Liberation Sans, sans-serif" font-size="9.8" font-weight="normal" fill="#000" xml:space="preserve"> 0</text>
<path transform="translate(672.50,392.1) scale(0.00479,-0.00479)" d="M515 0V1237L197 1010V1180L530 1409H696V0Z" fill="#000"/>
<polygon points="666.5,38.8 670.3,33.4 700.2,33.4 700.2,44.2 670.3,44.2" fill="#fff" stroke="#000" stroke-width="1.2"/>
<text x="685.5" y="43" font-family="Liberation Serif, serif" font-size="12.5" font-weight="bold" text-anchor="middle" fill="#000" textLength="27.5" lengthAdjust="spacingAndGlyphs">48.42</text>
<polygon points="667,88.1 670.6,83.5 699.7,83.5 699.7,92.69999999999999 670.6,92.69999999999999" fill="#fff" stroke="#1e5a1e" stroke-width="1.3"/>
<text x="672.20 677.75 683.30 686.10 691.65" y="91.1" font-family="Liberation Sans, sans-serif" font-size="9.9" font-weight="normal" fill="#000" xml:space="preserve">34.36</text>
<polygon points="667,125.3 670.6,120.7 699.7,120.7 699.7,129.9 670.6,129.9" fill="#fff" stroke="#20208c" stroke-width="1.3"/>
<text x="672.20 677.75 683.30 686.10 691.65" y="128.3" font-family="Liberation Sans, sans-serif" font-size="9.9" font-weight="normal" fill="#000" xml:space="preserve">26.50</text>
<polygon points="667,181.3 670.6,176.70000000000002 699.7,176.70000000000002 699.7,185.9 670.6,185.9" fill="#fff" stroke="#d02020" stroke-width="1.3"/>
<text x="672.20 677.75 683.30 686.10 691.65" y="184.3" font-family="Liberation Sans, sans-serif" font-size="9.9" font-weight="normal" fill="#000" xml:space="preserve"> 7.85</text>
<path transform="translate(672.20,184.3) scale(0.00483,-0.00483)" d="M515 0V1237L197 1010V1180L530 1409H696V0Z" fill="#000"/>
<polygon points="667,326.6 670.6,322.0 699.7,322.0 699.7,331.20000000000005 670.6,331.20000000000005" fill="#fff" stroke="#1e5a1e" stroke-width="1.3"/>
<text x="672.20 677.75 683.30 686.10 691.65" y="329.6" font-family="Liberation Sans, sans-serif" font-size="9.9" font-weight="normal" fill="#000" xml:space="preserve">88.96</text>
<text x="16.60 23.56 31.97 35.28 42.95 51.36 59.77" y="14.4" font-family="Liberation Sans, sans-serif" font-size="13.1" font-weight="bold" fill="#000" xml:space="preserve">$SILVER</text>
<text x="73.60 77.14 84.28 86.62 88.96 94.30 100.25 103.78 106.72 110.26 113.20 120.94 126.89 132.84 135.78 138.12 144.06 150.01 155.96 161.90 167.24 170.19 177.92 183.87 189.82 192.76 196.30 202.24 207.58 210.52 213.47 217.00 224.15 232.49 240.23 243.76" y="14.4" font-family="Liberation Sans, sans-serif" font-size="10.8" font-weight="normal" fill="#000" xml:space="preserve">(Silver - Continuous Contract (EOD))</text>
<text x="253.60 256.66 263.64 270.61" y="13.5" font-family="Liberation Sans, sans-serif" font-size="8.8" font-weight="normal" fill="#000" xml:space="preserve">INDX</text>
<text x="16.60 22.21 27.82 31.15 37.89 43.50 46.83 50.16 55.77 61.38 66.99" y="27" font-family="Liberation Sans, sans-serif" font-size="10.2" font-weight="normal" fill="#000" xml:space="preserve">28-Apr-20  </text>
<path transform="translate(61.38,27) scale(0.00498,-0.00498)" d="M515 0V1237L197 1010V1180L530 1409H696V0Z" fill="#000"/>
<path transform="translate(66.99,27) scale(0.00498,-0.00498)" d="M515 0V1237L197 1010V1180L530 1409H696V0Z" fill="#000"/>
<text x="578.30" y="13.9" font-family="Liberation Sans, sans-serif" font-size="11" font-weight="normal" fill="#3a3a3a" stroke="#3a3a3a" stroke-width="0.2" xml:space="preserve">©</text>
<text x="588.60 595.67 598.45 604.30 609.53 614.76 622.44 628.28 634.13 637.53 640.31 645.54 648.33 653.56 659.41" y="13.9" font-family="Liberation Sans, sans-serif" font-size="11" font-weight="normal" fill="#3a3a3a" stroke="#3a3a3a" stroke-width="0.2" xml:space="preserve">StockCharts.com</text>
<text x="308.00 316.33 322.91 328.92" y="26.8" font-family="Liberation Sans, sans-serif" font-size="10.5" font-weight="bold" fill="#000" xml:space="preserve">Open</text>
<text x="339.50 345.28 351.07 353.93 359.72" y="26.8" font-family="Liberation Sans, sans-serif" font-size="10.5" font-weight="normal" fill="#000" xml:space="preserve">46.67</text>
<text x="372.70 380.20 383.04 389.37" y="26.8" font-family="Liberation Sans, sans-serif" font-size="10.5" font-weight="bold" fill="#000" xml:space="preserve">High</text>
<text x="399.70 405.48 411.27 414.13 419.92" y="26.8" font-family="Liberation Sans, sans-serif" font-size="10.5" font-weight="normal" fill="#000" xml:space="preserve">49.75</text>
<text x="432.80 439.62 446.43" y="26.8" font-family="Liberation Sans, sans-serif" font-size="10.5" font-weight="bold" fill="#000" xml:space="preserve">Low</text>
<text x="459.00 464.88 470.77 473.73 479.62" y="26.8" font-family="Liberation Sans, sans-serif" font-size="10.5" font-weight="normal" fill="#000" xml:space="preserve">44.60</text>
<text x="493.00 500.90 504.14 510.88 517.04" y="26.8" font-family="Liberation Sans, sans-serif" font-size="10.5" font-weight="bold" fill="#000" xml:space="preserve">Close</text>
<text x="527.80 533.62 539.45 542.35 548.18" y="26.8" font-family="Liberation Sans, sans-serif" font-size="10.5" font-weight="normal" fill="#000" xml:space="preserve">48.42</text>
<text x="561.20 568.81 575.26" y="26.8" font-family="Liberation Sans, sans-serif" font-size="10.5" font-weight="bold" fill="#000" xml:space="preserve">Chg</text>
<text x="586.00 591.90 597.50 600.19 605.79" y="26.8" font-family="Liberation Sans, sans-serif" font-size="10.5" font-weight="normal" fill="#000" xml:space="preserve">+ .85</text>
<path transform="translate(591.90,26.8) scale(0.00513,-0.00513)" d="M515 0V1237L197 1010V1180L530 1409H696V0Z" fill="#000"/>
<text x="616.00 619.41 625.45 631.21 634.04 639.79 645.54 654.79" y="26.8" font-family="Liberation Sans, sans-serif" font-size="10.5" font-weight="normal" fill="#000" xml:space="preserve">(+3.97%)</text>
<polygon points="660.8,26 664.4,21.8 668,26" fill="#2e6b2e"/>
<g shape-rendering="crispEdges"><rect x="19" y="32" width="3" height="5" fill="#000"/><rect x="20" y="33" width="1" height="3" fill="#fff"/><rect x="20" y="37" width="1" height="2" fill="#000"/><rect x="22" y="34" width="3" height="5" fill="#000"/><rect x="23" y="39" width="1" height="1" fill="#000"/><rect x="25" y="33" width="3" height="6" fill="#000"/><rect x="26" y="34" width="1" height="4" fill="#fff"/><rect x="26" y="32" width="1" height="1" fill="#000"/></g>
<text x="31.4" y="39.7" font-family="Liberation Mono, monospace" font-size="10.3" font-weight="normal" fill="#000" textLength="135.6" lengthAdjust="spacing"  xml:space="preserve">$SILVER (Weekly) 48.42</text>
<rect x="19" y="46.5" width="9" height="1.6" fill="#15157a"/>
<text x="29.70 37.85 44.32 47.42 52.77 58.12 61.22 63.76 69.11 74.46 77.00 82.35" y="51" font-family="Liberation Sans, sans-serif" font-size="10.1" font-weight="normal" fill="#15157a" stroke="#15157a" stroke-width="0.2" xml:space="preserve">MA(50) 26.50</text>
<rect x="19" y="57.5" width="9" height="1.6" fill="#c81818"/>
<text x="29.70 37.84 44.31 47.40 52.75 58.10 63.45 66.54 69.07 74.42 79.77 82.31 87.65" y="62" font-family="Liberation Sans, sans-serif" font-size="10.1" font-weight="normal" fill="#c81818" stroke="#c81818" stroke-width="0.2" xml:space="preserve">MA(200)  7.85</text>
<path transform="translate(69.07,62) scale(0.00493,-0.00493)" d="M515 0V1237L197 1010V1180L530 1409H696V0Z" fill="#c81818" stroke='#c81818' stroke-width='40.554455445544555'/>
<rect x="19" y="68.5" width="9" height="1.6" fill="#1a521a"/>
<text x="29.70 37.85 44.32 47.42 52.77 58.12 61.22 63.76 69.11 74.46 77.00 82.35" y="73" font-family="Liberation Sans, sans-serif" font-size="10.1" font-weight="normal" fill="#1a521a" stroke="#1a521a" stroke-width="0.2" xml:space="preserve">MA(20) 34.36</text>
<polygon points="19,322 19,319.5 22.8,313.8 25.2,317 27.6,314.8 28.2,322" fill="#6f8f70"/><polyline points="19,319.5 22.8,313.8 25.2,317 27.6,314.8 28.2,321" fill="none" stroke="#111" stroke-width="1.2"/>
<text x="31.4" y="322" font-family="Liberation Mono, monospace" font-size="10" font-weight="normal" fill="#111" textLength="78.5" lengthAdjust="spacing"  xml:space="preserve">RSI(14) 88.96</text>
<text x="109.6" y="68.0" font-family="Liberation Serif, serif" font-size="17.4" font-weight="bold" fill="#0000cc" textLength="370.4" lengthAdjust="spacing" stroke="#0000cc" stroke-width="0.45" xml:space="preserve">The silver futures weekly chart illustrates just</text>
<text x="107.9" y="90.05" font-family="Liberation Serif, serif" font-size="17.4" font-weight="bold" fill="#0000cc" textLength="368.8" lengthAdjust="spacing" stroke="#0000cc" stroke-width="0.45" xml:space="preserve">how powerful the rally in silver has been. The</text>
<text x="107.9" y="112.1" font-family="Liberation Serif, serif" font-size="17.4" font-weight="bold" fill="#0000cc" textLength="364.1" lengthAdjust="spacing" stroke="#0000cc" stroke-width="0.45" xml:space="preserve">first major longer term support level is at the</text>
<text x="108.2" y="134.15" font-family="Liberation Serif, serif" font-size="17.4" font-weight="bold" fill="#0000cc" textLength="373.2" lengthAdjust="spacing" stroke="#0000cc" stroke-width="0.45" xml:space="preserve">20 period moving average around the 34 price</text>
<text x="107.9" y="156.2" font-family="Liberation Serif, serif" font-size="17.4" font-weight="bold" fill="#0000cc" letter-spacing="0.6" stroke="#0000cc" stroke-width="0.45" xml:space="preserve">level.</text>
<text x="236.2" y="262.3" font-family="Liberation Serif, serif" font-size="17.4" font-weight="bold" fill="#0000cc" textLength="428" lengthAdjust="spacing" stroke="#0000cc" stroke-width="0.45" xml:space="preserve">Note the powerful parabolic move higher paired with</text>
<text x="235.3" y="284.0" font-family="Liberation Serif, serif" font-size="17.4" font-weight="bold" fill="#0000cc" textLength="397.1" lengthAdjust="spacing" stroke="#0000cc" stroke-width="0.45" xml:space="preserve">the overbought status of the RSI indicator below.</text>
<ellipse cx="639.5" cy="91.1" rx="12.6" ry="17.3" fill="none" stroke="#0000cc" stroke-width="3.4" transform="rotate(-7 639.5 91.1)"/>
<rect x="616" y="85.7" width="53" height="3.6" fill="#0000cc"/>
<ellipse cx="590.5" cy="334.3" rx="59.5" ry="40.8" fill="none" stroke="#0000cc" stroke-width="3"/>
</svg>
</body></html>
